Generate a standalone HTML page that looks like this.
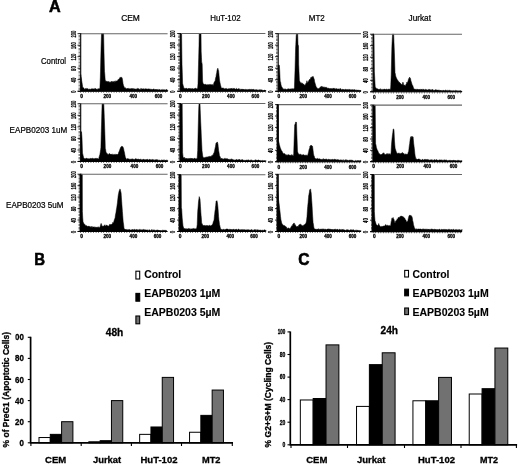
<!DOCTYPE html>
<html lang="en">
<head>
<meta charset="utf-8">
<title>Figure</title>
<style>
html,body{margin:0;padding:0;background:#fff;}
body{width:520px;height:465px;overflow:hidden;font-family:"Liberation Sans",Arial,Helvetica,sans-serif;}
svg{display:block;filter:blur(0.45px);}
</style>
</head>
<body>
<svg width="520" height="465" viewBox="0 0 520 465" font-family="'Liberation Sans', Arial, Helvetica, sans-serif" fill="#000">
<g font-weight="bold" fill="#000">
<path d="M80.70 91.2L80.70 74.5L81.10 76.9L81.50 78.8L81.70 80.8L81.90 81.9L82.30 84.3L82.70 87.3L83.10 87.4L83.50 87.8L83.90 88.1L84.20 89.2L84.70 89.0L85.10 89.2L85.50 88.5L85.90 88.6L86.30 89.3L86.70 88.3L87.10 88.4L87.50 88.7L87.90 88.7L88.30 89.2L88.70 89.4L89.10 88.8L89.50 89.3L89.90 89.2L90.30 89.1L90.70 89.4L91.10 88.9L91.50 89.0L91.90 88.5L92.30 88.9L92.70 88.8L93.10 88.9L93.50 88.8L93.90 89.0L94.30 89.2L94.70 88.4L95.10 88.4L95.50 88.6L95.90 88.7L96.30 89.1L96.70 89.2L97.10 89.2L97.50 89.4L97.90 88.7L98.30 89.1L98.70 88.6L99.10 89.1L99.50 88.5L99.90 88.2L100.30 77.8L100.50 71.2L100.70 62.2L101.10 46.2L101.50 33.7L101.90 33.7L102.30 33.7L102.70 33.7L103.10 33.7L103.60 33.7L104.00 52.2L104.30 63.9L104.50 71.2L104.70 73.1L105.20 80.0L105.50 80.4L105.90 81.5L106.10 82.0L106.30 80.9L106.70 81.9L107.10 81.4L107.50 81.6L107.90 82.0L108.30 81.3L108.70 82.2L109.10 81.6L109.50 82.4L110.00 82.0L110.30 82.3L110.70 82.2L111.10 81.2L111.50 81.5L111.90 82.2L112.30 81.3L112.70 82.3L113.10 82.1L113.50 81.4L113.90 81.7L114.20 82.5L114.70 80.9L115.10 81.9L115.50 81.6L115.90 80.7L116.30 81.2L116.70 81.0L117.10 81.1L117.50 80.7L117.90 79.7L118.30 79.9L118.70 79.0L119.20 78.8L119.50 78.6L119.90 77.4L120.30 77.7L120.70 77.2L121.10 76.9L121.50 77.7L122.00 77.6L122.30 78.6L122.70 81.0L123.00 83.5L123.50 85.4L123.90 86.2L124.20 87.1L124.70 88.2L125.10 87.6L125.50 87.9L125.90 88.4L126.10 88.7L126.30 89.0L126.70 89.1L127.10 88.1L127.50 88.9L127.90 88.4L128.30 88.9L128.70 88.3L129.10 88.5L129.50 88.8L129.90 88.9L130.30 88.4L130.70 89.1L131.10 88.9L131.50 88.5L132.00 88.2L132.30 88.5L132.70 88.9L133.10 88.2L133.50 89.0L133.90 89.2L134.30 88.9L134.70 88.8L135.10 89.2L135.50 89.1L135.90 88.9L136.30 88.7L136.70 89.2L137.10 88.9L137.50 88.4L137.90 88.3L138.30 88.7L138.70 88.7L139.10 88.8L139.50 89.3L139.90 89.4L140.30 89.4L140.70 88.5L141.10 88.7L141.50 88.5L141.90 89.5L142.30 88.8L142.70 89.0L143.10 88.8L143.50 89.2L143.90 88.5L144.30 89.5L144.70 89.0L145.10 88.8L145.50 88.7L145.90 88.9L146.30 88.9L146.70 88.9L147.10 88.7L147.50 89.3L148.00 89.0L148.30 88.8L148.70 88.9L149.10 89.3L149.50 89.0L149.90 88.9L150.30 89.2L150.70 89.2L151.10 89.4L151.50 89.3L151.90 89.2L152.30 89.8L152.70 89.3L153.10 88.9L153.50 89.0L153.90 89.2L154.30 89.6L154.70 89.2L155.10 89.4L155.50 89.6L155.90 89.2L156.30 90.0L156.70 89.3L157.10 90.0L157.50 89.5L157.90 89.6L158.30 89.9L158.70 89.4L159.10 89.7L159.50 89.6L159.90 89.3L160.30 89.9L160.70 90.2L161.10 89.9L161.50 89.6L161.90 90.1L162.30 90.1L162.70 89.4L163.10 89.7L163.50 89.9L163.90 89.5L164.30 90.0L164.70 89.7L165.10 90.2L165.50 90.0L165.90 89.6L166.30 89.5L166.70 89.6L167.10 90.1L167.50 89.9L167.70 90.2L167.7 91.2Z" stroke="#000" stroke-width="0.5" stroke-linejoin="round"/>
<path d="M80.7 33.7H167.6" stroke="#666" stroke-width="1.1" fill="none"/>
<path d="M80.7 33.3V91.8M77.7 91.2H167.6" stroke="#000" stroke-width="1.1" fill="none"/>
<path d="M79.40 33.5V91.7" stroke="#111" stroke-width="1.8" stroke-dasharray="0.5 0.938" fill="none"/>
<path d="M80.4 92.20H167.6" stroke="#111" stroke-width="1.2" stroke-dasharray="0.55 2.017" fill="none"/>
<path d="M77.5 91.2H80.7" stroke="#000" stroke-width="0.8"/>
<text transform="translate(75.6 92.9) rotate(-90)" font-size="6.4" textLength="2.5" lengthAdjust="spacingAndGlyphs" stroke="#000" stroke-width="0.22">0</text>
<path d="M77.5 79.7H80.7" stroke="#000" stroke-width="0.8"/>
<text transform="translate(75.6 82.4) rotate(-90)" font-size="6.4" textLength="4.6" lengthAdjust="spacingAndGlyphs" stroke="#000" stroke-width="0.22">40</text>
<path d="M77.5 68.2H80.7" stroke="#000" stroke-width="0.8"/>
<text transform="translate(75.6 70.9) rotate(-90)" font-size="6.4" textLength="4.6" lengthAdjust="spacingAndGlyphs" stroke="#000" stroke-width="0.22">80</text>
<path d="M77.5 56.7H80.7" stroke="#000" stroke-width="0.8"/>
<text transform="translate(75.6 60.5) rotate(-90)" font-size="6.4" textLength="6.7" lengthAdjust="spacingAndGlyphs" stroke="#000" stroke-width="0.22">120</text>
<path d="M77.5 45.2H80.7" stroke="#000" stroke-width="0.8"/>
<text transform="translate(75.6 49.0) rotate(-90)" font-size="6.4" textLength="6.7" lengthAdjust="spacingAndGlyphs" stroke="#000" stroke-width="0.22">160</text>
<path d="M77.5 33.7H80.7" stroke="#000" stroke-width="0.8"/>
<text transform="translate(75.6 37.5) rotate(-90)" font-size="6.4" textLength="6.7" lengthAdjust="spacingAndGlyphs" stroke="#000" stroke-width="0.22">200</text>
<text x="80.2" y="98.0" font-size="5.0" textLength="2.7" lengthAdjust="spacingAndGlyphs" stroke="#000" stroke-width="0.3">0</text>
<text x="103.4" y="98.0" font-size="5.0" textLength="7.6" lengthAdjust="spacingAndGlyphs" stroke="#000" stroke-width="0.3">200</text>
<text x="129.5" y="98.0" font-size="5.0" textLength="7.6" lengthAdjust="spacingAndGlyphs" stroke="#000" stroke-width="0.3">400</text>
<text x="154.8" y="98.0" font-size="5.0" textLength="7.6" lengthAdjust="spacingAndGlyphs" stroke="#000" stroke-width="0.3">600</text>
<path d="M180.30 91.2L180.30 33.6L180.70 33.6L181.10 33.6L181.60 33.6L182.00 64.2L182.30 72.9L182.60 83.3L183.10 85.3L183.50 86.5L183.90 88.2L184.30 88.4L184.70 88.3L185.10 88.2L185.50 88.5L186.00 88.8L186.30 88.2L186.70 88.1L187.10 88.7L187.50 89.0L187.90 89.1L188.30 88.2L188.70 89.1L189.10 88.4L189.50 88.5L189.90 88.8L190.30 88.3L190.70 89.1L191.10 89.0L191.50 88.6L191.90 89.1L192.30 88.3L192.70 88.9L193.10 89.0L193.50 89.1L193.90 88.5L194.30 88.7L194.70 88.5L195.10 88.4L195.50 88.3L195.90 88.1L196.30 88.4L196.70 88.9L197.20 88.6L197.60 88.4L198.00 83.7L198.30 71.8L198.50 64.2L198.70 57.2L199.00 45.5L199.20 33.6L199.50 33.6L199.90 33.6L200.30 33.6L200.70 33.6L201.00 33.6L201.20 51.7L201.50 57.8L201.70 63.0L201.90 62.8L202.20 64.2L202.60 81.1L203.20 84.3L203.50 84.1L203.90 83.8L204.30 84.6L204.70 84.5L205.10 84.2L205.50 84.4L206.00 84.3L206.30 84.9L206.70 84.7L207.10 85.3L207.50 84.6L207.90 84.5L208.30 84.7L208.70 84.6L209.10 85.3L209.50 84.4L209.90 84.3L210.30 84.3L210.70 84.9L211.10 84.5L211.50 85.1L211.90 84.4L212.30 84.4L212.70 85.1L213.20 85.4L213.50 84.2L213.90 82.9L214.30 81.8L214.70 81.4L215.10 81.2L215.50 78.3L216.00 76.7L216.30 74.4L216.70 72.9L217.00 70.5L217.50 68.8L217.90 68.2L218.30 70.1L218.60 70.5L219.10 75.7L219.50 80.0L219.90 82.2L220.30 83.9L220.50 85.5L220.70 85.4L221.10 87.2L221.50 87.9L221.70 88.0L221.90 88.3L222.30 87.9L222.70 88.1L223.10 88.3L223.50 88.1L223.90 88.4L224.30 88.8L224.70 88.8L225.10 88.4L225.50 88.5L226.00 89.3L226.30 88.6L226.70 88.5L227.10 88.9L227.50 88.8L227.90 89.2L228.30 88.8L228.70 88.8L229.10 88.7L229.50 89.3L229.90 88.2L230.30 88.7L230.70 88.8L231.10 88.3L231.50 88.6L232.00 88.6L232.30 88.4L232.70 89.1L233.10 88.6L233.50 88.8L233.90 88.2L234.30 88.3L234.70 89.0L235.10 88.8L235.50 89.2L235.90 88.9L236.30 88.5L236.70 88.5L237.10 88.9L237.50 89.1L237.90 89.3L238.30 88.8L238.70 88.5L239.10 89.4L239.50 88.7L239.90 89.5L240.30 89.4L240.70 89.4L241.10 88.9L241.50 89.3L241.90 89.3L242.30 89.1L242.70 89.6L243.10 89.0L243.50 89.6L243.90 89.3L244.30 89.6L244.70 89.6L245.10 89.3L245.50 89.4L246.00 89.5L246.30 89.5L246.70 89.4L247.10 89.8L247.50 89.8L247.90 89.3L248.30 89.4L248.70 89.5L249.10 89.2L249.50 89.4L249.90 89.2L250.30 89.8L250.70 89.3L251.10 89.3L251.50 89.2L251.90 89.8L252.30 89.8L252.70 89.2L253.10 90.0L253.50 89.2L253.90 89.3L254.30 90.1L254.70 90.0L255.10 89.5L255.50 90.0L255.90 90.2L256.30 89.5L256.70 89.9L257.10 89.6L257.50 90.2L257.90 90.0L258.30 89.7L258.70 90.4L259.10 90.2L259.50 89.8L259.90 89.6L260.30 89.5L260.70 90.4L261.10 90.0L261.50 89.8L261.90 90.0L262.30 89.9L262.70 90.4L263.10 90.5L263.50 90.5L263.90 90.6L264.30 90.1L264.70 90.1L265.10 90.1L265.50 90.5L266.00 90.5L266.0 91.2Z" stroke="#000" stroke-width="0.5" stroke-linejoin="round"/>
<path d="M180.3 33.5H265.4" stroke="#666" stroke-width="1.1" fill="none"/>
<path d="M180.3 33.1V91.8M177.3 91.2H265.4" stroke="#000" stroke-width="1.1" fill="none"/>
<path d="M179.00 33.2V91.7" stroke="#111" stroke-width="1.8" stroke-dasharray="0.5 0.943" fill="none"/>
<path d="M180.0 92.20H265.4" stroke="#111" stroke-width="1.2" stroke-dasharray="0.55 1.950" fill="none"/>
<path d="M177.1 91.2H180.3" stroke="#000" stroke-width="0.8"/>
<text transform="translate(175.2 92.9) rotate(-90)" font-size="6.4" textLength="2.5" lengthAdjust="spacingAndGlyphs" stroke="#000" stroke-width="0.22">0</text>
<path d="M177.1 79.7H180.3" stroke="#000" stroke-width="0.8"/>
<text transform="translate(175.2 82.4) rotate(-90)" font-size="6.4" textLength="4.6" lengthAdjust="spacingAndGlyphs" stroke="#000" stroke-width="0.22">40</text>
<path d="M177.1 68.1H180.3" stroke="#000" stroke-width="0.8"/>
<text transform="translate(175.2 70.8) rotate(-90)" font-size="6.4" textLength="4.6" lengthAdjust="spacingAndGlyphs" stroke="#000" stroke-width="0.22">80</text>
<path d="M177.1 56.6H180.3" stroke="#000" stroke-width="0.8"/>
<text transform="translate(175.2 60.3) rotate(-90)" font-size="6.4" textLength="6.7" lengthAdjust="spacingAndGlyphs" stroke="#000" stroke-width="0.22">120</text>
<path d="M177.1 45.0H180.3" stroke="#000" stroke-width="0.8"/>
<text transform="translate(175.2 48.8) rotate(-90)" font-size="6.4" textLength="6.7" lengthAdjust="spacingAndGlyphs" stroke="#000" stroke-width="0.22">160</text>
<path d="M177.1 33.5H180.3" stroke="#000" stroke-width="0.8"/>
<text transform="translate(175.2 37.2) rotate(-90)" font-size="6.4" textLength="6.7" lengthAdjust="spacingAndGlyphs" stroke="#000" stroke-width="0.22">200</text>
<text x="179.1" y="98.0" font-size="5.0" textLength="2.7" lengthAdjust="spacingAndGlyphs" stroke="#000" stroke-width="0.3">0</text>
<text x="202.1" y="98.0" font-size="5.0" textLength="7.6" lengthAdjust="spacingAndGlyphs" stroke="#000" stroke-width="0.3">200</text>
<text x="227.1" y="98.0" font-size="5.0" textLength="7.6" lengthAdjust="spacingAndGlyphs" stroke="#000" stroke-width="0.3">400</text>
<text x="251.6" y="98.0" font-size="5.0" textLength="7.6" lengthAdjust="spacingAndGlyphs" stroke="#000" stroke-width="0.3">600</text>
<path d="M278.20 91.3L278.20 65.6L278.60 65.1L279.00 64.8L279.40 65.6L279.70 70.6L280.20 81.3L280.60 82.0L281.00 84.6L281.20 85.3L281.40 86.2L281.80 86.8L282.20 87.5L282.50 88.2L283.00 88.4L283.40 89.4L283.70 88.9L284.20 88.7L284.60 89.4L285.00 89.1L285.40 88.9L285.80 89.2L286.20 89.4L286.60 89.4L287.00 89.1L287.40 89.6L287.80 88.7L288.20 88.8L288.60 88.9L289.00 88.7L289.40 89.0L289.80 89.2L290.20 89.0L290.60 89.1L291.00 88.6L291.40 88.8L291.80 89.3L292.20 88.7L292.60 88.8L293.00 88.8L293.40 88.8L293.80 89.2L294.00 88.7L294.20 88.2L294.40 87.9L294.60 81.9L295.00 70.6L295.40 55.8L295.60 48.1L295.80 44.6L296.20 35.6L296.50 33.7L297.00 33.7L297.40 33.7L297.70 33.7L298.00 44.3L298.20 45.2L298.50 45.6L298.70 64.3L299.00 71.5L299.40 80.4L299.80 81.3L300.20 82.2L300.60 83.3L301.00 82.5L301.40 83.2L301.80 83.2L302.20 83.2L302.50 83.0L303.00 84.6L303.40 84.0L303.80 84.1L304.20 84.9L304.60 84.9L305.00 85.6L305.40 84.6L305.80 83.6L306.20 83.2L306.60 82.2L306.90 80.7L307.40 82.4L307.70 83.1L308.20 81.5L308.70 81.2L309.00 80.0L309.40 79.9L309.80 79.0L310.20 79.5L310.60 78.1L311.00 77.3L311.40 78.0L311.90 76.8L312.20 77.2L312.60 76.6L313.10 76.3L313.40 77.1L313.80 78.0L314.00 78.7L314.20 78.9L314.60 81.5L315.00 83.1L315.40 84.2L315.80 85.7L316.20 87.1L316.60 87.2L317.00 87.9L317.50 88.9L317.80 88.3L318.20 88.6L318.60 88.7L319.00 88.2L319.40 88.2L319.80 87.9L320.20 87.0L320.60 87.2L321.00 86.4L321.20 86.5L321.40 87.4L321.80 86.3L322.20 86.5L322.60 87.6L323.00 86.7L323.40 87.3L323.80 87.3L324.20 86.8L324.60 87.7L325.00 87.5L325.40 87.1L325.80 87.4L326.20 87.8L326.60 87.3L327.00 87.6L327.40 87.9L327.80 88.5L328.20 88.1L328.70 88.3L329.00 88.6L329.40 88.8L329.80 88.3L330.20 88.8L330.60 88.5L331.00 88.3L331.40 88.5L331.80 88.8L332.20 88.5L332.60 88.7L333.00 88.3L333.40 88.6L333.80 88.1L334.20 88.2L334.60 88.5L335.00 89.0L335.40 89.2L335.80 88.4L336.20 88.5L336.60 88.7L337.00 89.0L337.40 89.2L337.80 88.8L338.20 88.9L338.60 88.9L339.00 88.9L339.40 88.8L339.80 89.4L340.00 89.4L340.20 88.6L340.60 88.7L341.00 88.8L341.40 89.7L341.80 89.7L342.20 89.5L342.60 89.3L343.00 89.1L343.40 89.7L343.80 89.3L344.20 89.8L344.60 89.8L345.00 89.2L345.40 89.4L345.80 89.3L346.20 89.6L346.60 89.5L347.00 89.8L347.40 89.7L347.80 89.3L348.20 89.2L348.60 90.0L349.00 90.0L349.40 89.3L349.80 89.5L350.20 89.4L350.60 90.0L351.00 89.8L351.40 90.0L351.80 89.5L352.20 89.9L352.60 89.7L353.00 89.4L353.40 90.0L353.80 89.8L354.20 89.7L354.60 89.5L355.00 90.0L355.40 90.1L355.80 90.4L356.20 89.7L356.60 90.5L357.00 90.5L357.40 90.0L357.80 90.1L358.20 90.0L358.60 90.4L359.00 89.9L359.40 90.6L359.80 90.5L360.20 90.1L360.60 90.7L361.00 90.5L361.0 91.3Z" stroke="#000" stroke-width="0.5" stroke-linejoin="round"/>
<path d="M278.2 33.6H361.0" stroke="#666" stroke-width="1.1" fill="none"/>
<path d="M278.2 33.2V91.9M275.2 91.3H361.0" stroke="#000" stroke-width="1.1" fill="none"/>
<path d="M276.90 33.4V91.8" stroke="#111" stroke-width="1.8" stroke-dasharray="0.5 0.942" fill="none"/>
<path d="M277.9 92.30H361.0" stroke="#111" stroke-width="1.2" stroke-dasharray="0.55 1.910" fill="none"/>
<path d="M275.0 91.3H278.2" stroke="#000" stroke-width="0.8"/>
<text transform="translate(273.1 93.0) rotate(-90)" font-size="6.4" textLength="2.5" lengthAdjust="spacingAndGlyphs" stroke="#000" stroke-width="0.22">0</text>
<path d="M275.0 79.8H278.2" stroke="#000" stroke-width="0.8"/>
<text transform="translate(273.1 82.5) rotate(-90)" font-size="6.4" textLength="4.6" lengthAdjust="spacingAndGlyphs" stroke="#000" stroke-width="0.22">40</text>
<path d="M275.0 68.2H278.2" stroke="#000" stroke-width="0.8"/>
<text transform="translate(273.1 70.9) rotate(-90)" font-size="6.4" textLength="4.6" lengthAdjust="spacingAndGlyphs" stroke="#000" stroke-width="0.22">80</text>
<path d="M275.0 56.7H278.2" stroke="#000" stroke-width="0.8"/>
<text transform="translate(273.1 60.4) rotate(-90)" font-size="6.4" textLength="6.7" lengthAdjust="spacingAndGlyphs" stroke="#000" stroke-width="0.22">120</text>
<path d="M275.0 45.1H278.2" stroke="#000" stroke-width="0.8"/>
<text transform="translate(273.1 48.9) rotate(-90)" font-size="6.4" textLength="6.7" lengthAdjust="spacingAndGlyphs" stroke="#000" stroke-width="0.22">160</text>
<path d="M275.0 33.6H278.2" stroke="#000" stroke-width="0.8"/>
<text transform="translate(273.1 37.4) rotate(-90)" font-size="6.4" textLength="6.7" lengthAdjust="spacingAndGlyphs" stroke="#000" stroke-width="0.22">200</text>
<text x="277.4" y="98.1" font-size="5.0" textLength="2.7" lengthAdjust="spacingAndGlyphs" stroke="#000" stroke-width="0.3">0</text>
<text x="299.5" y="98.1" font-size="5.0" textLength="7.6" lengthAdjust="spacingAndGlyphs" stroke="#000" stroke-width="0.3">200</text>
<text x="324.2" y="98.1" font-size="5.0" textLength="7.6" lengthAdjust="spacingAndGlyphs" stroke="#000" stroke-width="0.3">400</text>
<text x="348.8" y="98.1" font-size="5.0" textLength="7.6" lengthAdjust="spacingAndGlyphs" stroke="#000" stroke-width="0.3">600</text>
<path d="M373.20 91.8L373.20 34.2L373.60 34.2L374.00 34.2L374.40 71.8L374.80 79.5L375.20 86.5L375.60 87.5L376.00 88.3L376.40 88.2L376.80 88.9L377.00 88.8L377.20 88.7L377.60 88.8L378.00 89.3L378.40 88.9L378.80 89.4L379.20 89.4L379.60 89.3L380.00 88.8L380.40 88.8L380.80 89.5L381.20 89.4L381.60 89.4L382.00 89.4L382.40 89.4L382.80 89.4L383.20 89.6L383.60 89.2L384.00 89.0L384.40 89.3L384.80 89.0L385.20 89.3L385.60 89.7L386.00 89.1L386.40 88.9L386.80 89.6L387.20 89.9L387.60 89.3L388.00 89.3L388.40 89.3L388.80 88.9L389.20 89.2L389.60 89.1L390.00 89.9L390.20 89.4L390.40 88.8L390.60 89.2L390.80 84.8L391.20 75.1L391.60 58.0L391.90 46.3L392.50 34.2L392.80 34.2L393.20 34.2L393.70 34.2L394.00 42.6L394.40 52.8L394.80 65.7L395.00 72.8L395.20 73.2L395.60 75.4L396.00 77.1L396.20 77.6L396.40 77.7L396.80 78.8L397.20 79.5L397.60 80.0L398.10 81.0L398.40 81.0L398.80 82.2L399.20 82.0L399.60 82.6L400.00 82.8L400.40 83.3L400.80 83.6L401.20 84.0L401.60 84.3L402.00 85.1L402.40 84.0L402.90 82.1L403.20 82.8L403.60 84.4L403.80 84.9L404.00 85.4L404.40 85.0L404.80 85.0L405.00 86.0L405.20 85.9L405.60 85.2L406.00 84.3L406.40 83.9L406.80 82.2L407.20 82.9L407.50 82.1L408.00 81.3L408.40 79.5L408.80 78.4L409.20 78.5L409.60 77.1L410.00 77.8L410.40 78.3L410.60 78.8L410.80 80.3L411.20 81.5L411.60 82.8L412.00 84.2L412.40 85.2L412.80 85.6L413.20 86.9L413.70 88.6L414.00 88.8L414.40 88.9L414.80 89.3L415.20 88.9L415.60 89.6L416.00 89.6L416.40 89.3L416.80 89.6L417.20 89.8L417.60 89.1L418.00 89.1L418.40 89.7L418.80 89.5L419.20 89.0L419.60 89.5L420.00 89.8L420.40 89.9L420.80 89.0L421.20 89.1L421.60 89.5L422.00 89.4L422.40 89.4L422.80 89.7L423.20 88.9L423.60 89.3L424.00 89.8L424.40 90.0L424.80 89.6L425.20 89.7L425.60 89.3L426.00 89.4L426.40 89.5L426.80 90.0L427.20 90.0L427.60 89.9L428.00 89.9L428.40 89.3L428.80 89.7L429.20 89.6L429.60 89.3L430.00 90.0L430.40 89.8L430.80 90.2L431.20 89.6L431.60 90.4L432.00 89.6L432.40 89.6L432.80 89.6L433.20 90.4L433.60 90.2L434.00 89.8L434.40 90.4L434.80 90.1L435.20 90.1L435.60 89.6L436.00 90.0L436.40 89.8L436.80 90.3L437.20 89.9L437.60 90.3L438.00 89.8L438.40 90.6L438.80 89.9L439.20 90.5L439.60 90.2L440.00 90.2L440.40 90.6L440.80 90.0L441.20 90.5L441.60 90.5L442.00 90.7L442.40 90.5L442.80 90.4L443.20 90.1L443.60 90.5L444.00 90.2L444.40 90.8L444.80 90.5L445.20 90.4L445.60 90.0L446.00 90.1L446.40 90.3L446.80 90.9L447.20 90.6L447.60 90.3L448.00 90.7L448.40 90.4L448.80 90.6L449.20 91.0L449.60 90.1L450.00 90.3L450.40 90.8L450.80 90.5L451.20 90.8L451.60 90.7L452.00 90.6L452.40 90.8L452.80 90.8L453.20 90.7L453.60 90.5L454.00 90.9L454.40 91.0L454.80 90.5L455.20 90.9L455.60 90.3L456.00 90.7L456.40 90.5L456.80 90.9L457.20 90.4L457.60 91.2L458.00 91.1L458.40 91.2L458.80 90.6L459.20 90.6L459.60 91.1L460.00 90.9L460.40 90.5L460.80 90.8L461.20 91.3L461.60 91.1L462.00 91.2L462.0 91.8Z" stroke="#000" stroke-width="0.5" stroke-linejoin="round"/>
<path d="M373.2 34.2H462.0" stroke="#666" stroke-width="1.1" fill="none"/>
<path d="M373.2 33.8V92.4M370.2 91.8H462.0" stroke="#000" stroke-width="1.1" fill="none"/>
<path d="M371.90 34.0V92.3" stroke="#111" stroke-width="1.8" stroke-dasharray="0.5 0.940" fill="none"/>
<path d="M372.9 92.80H462.0" stroke="#111" stroke-width="1.2" stroke-dasharray="0.55 2.017" fill="none"/>
<path d="M370.0 91.8H373.2" stroke="#000" stroke-width="0.8"/>
<text transform="translate(368.1 93.5) rotate(-90)" font-size="6.4" textLength="2.5" lengthAdjust="spacingAndGlyphs" stroke="#000" stroke-width="0.22">0</text>
<path d="M370.0 80.3H373.2" stroke="#000" stroke-width="0.8"/>
<text transform="translate(368.1 83.0) rotate(-90)" font-size="6.4" textLength="4.6" lengthAdjust="spacingAndGlyphs" stroke="#000" stroke-width="0.22">40</text>
<path d="M370.0 68.8H373.2" stroke="#000" stroke-width="0.8"/>
<text transform="translate(368.1 71.5) rotate(-90)" font-size="6.4" textLength="4.6" lengthAdjust="spacingAndGlyphs" stroke="#000" stroke-width="0.22">80</text>
<path d="M370.0 57.2H373.2" stroke="#000" stroke-width="0.8"/>
<text transform="translate(368.1 61.0) rotate(-90)" font-size="6.4" textLength="6.7" lengthAdjust="spacingAndGlyphs" stroke="#000" stroke-width="0.22">120</text>
<path d="M370.0 45.7H373.2" stroke="#000" stroke-width="0.8"/>
<text transform="translate(368.1 49.5) rotate(-90)" font-size="6.4" textLength="6.7" lengthAdjust="spacingAndGlyphs" stroke="#000" stroke-width="0.22">160</text>
<path d="M370.0 34.2H373.2" stroke="#000" stroke-width="0.8"/>
<text transform="translate(368.1 38.0) rotate(-90)" font-size="6.4" textLength="6.7" lengthAdjust="spacingAndGlyphs" stroke="#000" stroke-width="0.22">200</text>
<text x="372.9" y="98.6" font-size="5.0" textLength="2.7" lengthAdjust="spacingAndGlyphs" stroke="#000" stroke-width="0.3">0</text>
<text x="396.2" y="98.6" font-size="5.0" textLength="7.6" lengthAdjust="spacingAndGlyphs" stroke="#000" stroke-width="0.3">200</text>
<text x="422.4" y="98.6" font-size="5.0" textLength="7.6" lengthAdjust="spacingAndGlyphs" stroke="#000" stroke-width="0.3">400</text>
<text x="447.5" y="98.6" font-size="5.0" textLength="7.6" lengthAdjust="spacingAndGlyphs" stroke="#000" stroke-width="0.3">600</text>
<path d="M80.70 161.5L80.70 131.5L81.10 131.8L81.50 131.8L82.00 138.0L82.30 147.1L82.50 153.0L82.70 153.7L83.10 155.4L83.60 157.6L83.90 158.2L84.30 158.4L84.70 158.4L85.10 158.9L85.50 158.6L86.00 158.4L86.30 158.1L86.70 158.3L87.10 158.4L87.50 158.5L87.90 159.1L88.30 158.8L88.70 158.8L89.10 158.4L89.50 159.0L89.90 158.7L90.30 158.6L90.70 158.3L91.10 158.3L91.50 158.5L91.90 159.0L92.30 158.3L92.70 158.2L93.10 158.5L93.50 158.8L93.90 158.6L94.30 159.0L94.70 158.4L95.10 158.1L95.50 158.6L95.90 158.4L96.30 158.2L96.70 158.9L97.10 158.1L97.50 158.5L97.90 158.9L98.30 159.0L98.60 158.9L99.20 156.7L99.50 155.4L99.90 154.4L100.20 152.4L100.70 149.3L100.90 147.5L101.10 140.1L101.30 131.5L101.50 124.9L101.80 113.5L102.10 103.9L102.30 103.9L102.70 103.9L103.10 103.9L103.50 103.9L103.80 103.9L104.30 117.5L104.70 128.7L104.90 134.5L105.10 141.0L105.30 148.5L105.50 148.8L106.00 152.2L106.30 152.5L106.70 153.1L107.10 154.1L107.50 153.7L107.90 154.4L108.30 154.6L108.70 154.5L109.10 153.5L109.50 153.6L110.00 154.1L110.30 154.6L110.70 154.1L111.10 154.0L111.50 154.5L111.90 154.2L112.30 153.9L112.70 154.9L113.10 154.7L113.50 154.3L113.90 154.8L114.30 154.5L114.70 154.2L115.10 154.7L115.50 154.3L115.90 154.6L116.30 154.2L116.70 154.5L117.10 154.1L117.50 154.9L118.00 154.1L118.30 154.1L118.60 152.4L119.10 151.4L119.50 150.5L119.90 149.3L120.30 148.3L120.70 147.3L121.10 146.8L121.50 146.3L121.90 146.6L122.40 146.5L122.70 146.5L123.10 147.2L123.60 148.6L123.90 150.2L124.30 151.9L124.50 152.4L124.70 154.0L125.10 156.0L125.50 158.1L125.90 157.9L126.30 158.9L126.70 159.5L127.10 158.8L127.50 158.6L127.90 158.8L128.30 158.9L128.70 158.7L129.10 159.2L129.50 158.9L129.90 159.5L130.30 159.4L130.70 159.1L131.10 159.0L131.50 159.1L132.00 159.5L132.30 158.8L132.70 159.0L133.10 159.3L133.50 159.3L133.90 159.2L134.30 159.4L134.70 159.6L135.10 158.7L135.50 158.7L135.90 159.0L136.30 158.8L136.70 159.3L137.10 158.9L137.50 159.5L137.90 159.0L138.30 159.2L138.70 158.9L139.10 159.7L139.50 159.0L139.90 159.7L140.30 159.3L140.70 158.9L141.10 159.9L141.50 159.7L141.90 159.6L142.30 159.6L142.70 159.9L143.10 159.1L143.50 159.2L143.90 159.6L144.30 159.7L144.70 159.5L145.10 160.0L145.50 160.1L145.90 159.2L146.30 159.8L146.70 159.6L147.10 159.2L147.50 159.2L148.00 159.7L148.30 160.0L148.70 159.9L149.10 159.3L149.50 159.3L149.90 160.1L150.30 159.4L150.70 159.9L151.10 159.8L151.50 160.1L151.90 159.4L152.30 159.3L152.70 160.1L153.10 159.7L153.50 160.2L153.90 159.5L154.30 160.3L154.70 160.3L155.10 159.7L155.50 160.1L155.90 159.5L156.30 159.6L156.70 159.8L157.10 160.3L157.50 159.8L157.90 159.6L158.30 160.1L158.70 160.4L159.10 160.3L159.50 160.2L159.90 159.9L160.30 160.4L160.70 160.4L161.10 160.4L161.50 159.9L161.90 159.8L162.30 160.3L162.70 160.0L163.10 159.8L163.50 160.1L163.90 160.4L164.30 160.4L164.70 159.8L165.10 160.1L165.50 160.5L165.90 160.1L166.30 160.7L166.70 159.8L167.10 160.3L167.50 160.3L167.70 160.3L167.7 161.5Z" stroke="#000" stroke-width="0.5" stroke-linejoin="round"/>
<path d="M80.7 103.8H167.6" stroke="#666" stroke-width="1.1" fill="none"/>
<path d="M80.7 103.4V162.1M77.7 161.5H167.6" stroke="#000" stroke-width="1.1" fill="none"/>
<path d="M79.40 103.5V162.0" stroke="#111" stroke-width="1.8" stroke-dasharray="0.5 0.943" fill="none"/>
<path d="M80.4 162.50H167.6" stroke="#111" stroke-width="1.2" stroke-dasharray="0.55 2.017" fill="none"/>
<path d="M77.5 161.5H80.7" stroke="#000" stroke-width="0.8"/>
<text transform="translate(75.6 163.2) rotate(-90)" font-size="6.4" textLength="2.5" lengthAdjust="spacingAndGlyphs" stroke="#000" stroke-width="0.22">0</text>
<path d="M77.5 150.0H80.7" stroke="#000" stroke-width="0.8"/>
<text transform="translate(75.6 152.7) rotate(-90)" font-size="6.4" textLength="4.6" lengthAdjust="spacingAndGlyphs" stroke="#000" stroke-width="0.22">40</text>
<path d="M77.5 138.4H80.7" stroke="#000" stroke-width="0.8"/>
<text transform="translate(75.6 141.1) rotate(-90)" font-size="6.4" textLength="4.6" lengthAdjust="spacingAndGlyphs" stroke="#000" stroke-width="0.22">80</text>
<path d="M77.5 126.9H80.7" stroke="#000" stroke-width="0.8"/>
<text transform="translate(75.6 130.6) rotate(-90)" font-size="6.4" textLength="6.7" lengthAdjust="spacingAndGlyphs" stroke="#000" stroke-width="0.22">120</text>
<path d="M77.5 115.3H80.7" stroke="#000" stroke-width="0.8"/>
<text transform="translate(75.6 119.1) rotate(-90)" font-size="6.4" textLength="6.7" lengthAdjust="spacingAndGlyphs" stroke="#000" stroke-width="0.22">160</text>
<path d="M77.5 103.8H80.7" stroke="#000" stroke-width="0.8"/>
<text transform="translate(75.6 107.5) rotate(-90)" font-size="6.4" textLength="6.7" lengthAdjust="spacingAndGlyphs" stroke="#000" stroke-width="0.22">200</text>
<text x="80.2" y="168.3" font-size="5.0" textLength="2.7" lengthAdjust="spacingAndGlyphs" stroke="#000" stroke-width="0.3">0</text>
<text x="103.6" y="168.3" font-size="5.0" textLength="7.6" lengthAdjust="spacingAndGlyphs" stroke="#000" stroke-width="0.3">200</text>
<text x="130.6" y="168.3" font-size="5.0" textLength="7.6" lengthAdjust="spacingAndGlyphs" stroke="#000" stroke-width="0.3">400</text>
<text x="155.8" y="168.3" font-size="5.0" textLength="7.6" lengthAdjust="spacingAndGlyphs" stroke="#000" stroke-width="0.3">600</text>
<path d="M179.80 161.5L179.80 103.9L180.20 103.9L180.60 103.9L181.00 103.9L181.40 103.9L181.80 103.9L182.20 103.9L182.60 152.6L183.00 156.2L183.20 157.7L183.40 157.4L183.80 158.0L184.20 157.4L184.60 157.5L185.00 158.7L185.40 158.4L185.80 158.2L186.00 158.7L186.20 158.1L186.60 158.6L187.00 158.9L187.40 158.5L187.80 158.4L188.20 158.8L188.60 158.4L189.00 158.3L189.40 158.6L189.80 158.6L190.20 158.2L190.60 158.4L191.00 158.6L191.40 158.1L191.80 159.0L192.20 158.3L192.60 159.0L193.00 158.5L193.40 158.9L193.80 158.7L194.20 158.3L194.60 158.3L195.00 158.3L195.40 158.9L195.80 158.6L196.20 158.9L196.60 158.5L196.80 158.6L197.00 158.8L197.20 157.9L197.40 154.7L197.70 150.4L198.20 128.0L198.70 109.3L199.00 103.9L199.40 103.9L199.80 103.9L200.00 103.9L200.20 109.3L200.70 121.8L201.00 128.3L201.40 138.0L201.80 145.7L202.00 150.4L202.20 152.0L202.70 155.7L203.00 156.9L203.50 157.8L203.80 157.6L204.20 157.9L204.50 157.6L205.00 157.2L205.40 157.2L205.80 157.4L206.20 157.0L206.60 157.5L207.00 156.6L207.40 157.3L207.80 157.1L208.20 157.2L208.60 156.5L209.00 156.2L209.40 156.2L209.80 157.0L210.20 156.5L210.60 156.5L211.00 156.6L211.40 155.6L211.80 156.7L212.00 156.1L212.20 155.6L212.60 154.9L213.00 155.2L213.40 154.0L213.90 152.7L214.20 152.4L214.60 150.5L215.10 148.0L215.40 146.9L215.80 144.3L216.00 143.0L216.20 142.9L216.60 143.1L217.00 142.0L217.40 142.1L217.80 143.4L218.00 144.3L218.20 146.5L218.70 150.9L219.00 152.3L219.50 155.8L219.80 156.3L220.20 156.8L220.70 158.7L221.00 158.8L221.40 158.1L221.80 158.5L222.20 159.2L222.60 158.8L223.00 158.5L223.40 159.2L223.80 158.9L224.20 158.5L224.60 158.4L225.00 158.7L225.40 158.4L225.80 158.8L226.20 158.9L226.60 158.5L227.00 159.0L227.40 158.6L227.80 159.2L228.00 159.1L228.20 159.3L228.60 158.9L229.00 159.4L229.40 159.4L229.80 159.4L230.20 159.2L230.60 159.4L231.00 159.4L231.40 158.8L231.80 159.2L232.20 159.1L232.60 159.8L233.00 159.7L233.40 160.1L233.80 159.5L234.00 159.8L234.20 159.9L234.60 160.2L235.00 160.0L235.40 160.0L235.80 159.9L236.20 159.3L236.60 159.5L237.00 160.0L237.40 159.9L237.80 160.1L238.20 159.4L238.60 160.0L239.00 159.6L239.40 159.6L239.80 159.4L240.20 160.3L240.60 160.0L241.00 160.0L241.40 160.3L241.80 159.5L242.20 160.1L242.60 159.6L243.00 159.9L243.40 160.4L243.80 160.1L244.20 160.2L244.60 160.4L245.00 160.3L245.40 159.9L245.80 160.5L246.20 160.2L246.60 160.1L247.00 160.0L247.40 160.4L247.80 159.8L248.20 160.3L248.60 159.8L249.00 159.9L249.40 160.4L249.80 160.4L250.20 160.3L250.60 159.9L251.00 160.2L251.40 160.2L251.80 159.8L252.20 160.4L252.60 160.4L253.00 160.3L253.40 160.5L253.80 160.6L254.20 160.7L254.60 160.1L255.00 160.2L255.40 159.9L255.80 159.8L256.20 160.5L256.60 160.1L257.00 159.9L257.40 160.6L257.80 160.1L258.20 160.1L258.60 159.9L259.00 160.0L259.40 160.6L259.80 160.2L260.20 160.8L260.60 160.4L261.00 160.5L261.40 160.8L261.80 160.5L262.20 160.6L262.60 160.4L263.00 160.6L263.40 160.8L263.80 160.5L264.20 160.5L264.60 160.8L265.00 160.3L265.40 160.7L265.80 160.9L266.00 160.7L266.0 161.5Z" stroke="#000" stroke-width="0.5" stroke-linejoin="round"/>
<path d="M180.3 103.5H265.4" stroke="#666" stroke-width="1.1" fill="none"/>
<path d="M180.3 103.1V162.1M177.3 161.5H265.4" stroke="#000" stroke-width="1.1" fill="none"/>
<path d="M179.00 103.2V162.0" stroke="#111" stroke-width="1.8" stroke-dasharray="0.5 0.950" fill="none"/>
<path d="M180.0 162.50H265.4" stroke="#111" stroke-width="1.2" stroke-dasharray="0.55 1.950" fill="none"/>
<path d="M177.1 161.5H180.3" stroke="#000" stroke-width="0.8"/>
<text transform="translate(175.2 163.2) rotate(-90)" font-size="6.4" textLength="2.5" lengthAdjust="spacingAndGlyphs" stroke="#000" stroke-width="0.22">0</text>
<path d="M177.1 149.9H180.3" stroke="#000" stroke-width="0.8"/>
<text transform="translate(175.2 152.6) rotate(-90)" font-size="6.4" textLength="4.6" lengthAdjust="spacingAndGlyphs" stroke="#000" stroke-width="0.22">40</text>
<path d="M177.1 138.3H180.3" stroke="#000" stroke-width="0.8"/>
<text transform="translate(175.2 141.0) rotate(-90)" font-size="6.4" textLength="4.6" lengthAdjust="spacingAndGlyphs" stroke="#000" stroke-width="0.22">80</text>
<path d="M177.1 126.7H180.3" stroke="#000" stroke-width="0.8"/>
<text transform="translate(175.2 130.5) rotate(-90)" font-size="6.4" textLength="6.7" lengthAdjust="spacingAndGlyphs" stroke="#000" stroke-width="0.22">120</text>
<path d="M177.1 115.1H180.3" stroke="#000" stroke-width="0.8"/>
<text transform="translate(175.2 118.8) rotate(-90)" font-size="6.4" textLength="6.7" lengthAdjust="spacingAndGlyphs" stroke="#000" stroke-width="0.22">160</text>
<path d="M177.1 103.5H180.3" stroke="#000" stroke-width="0.8"/>
<text transform="translate(175.2 107.2) rotate(-90)" font-size="6.4" textLength="6.7" lengthAdjust="spacingAndGlyphs" stroke="#000" stroke-width="0.22">200</text>
<text x="179.1" y="168.3" font-size="5.0" textLength="2.7" lengthAdjust="spacingAndGlyphs" stroke="#000" stroke-width="0.3">0</text>
<text x="202.1" y="168.3" font-size="5.0" textLength="7.6" lengthAdjust="spacingAndGlyphs" stroke="#000" stroke-width="0.3">200</text>
<text x="227.1" y="168.3" font-size="5.0" textLength="7.6" lengthAdjust="spacingAndGlyphs" stroke="#000" stroke-width="0.3">400</text>
<text x="251.6" y="168.3" font-size="5.0" textLength="7.6" lengthAdjust="spacingAndGlyphs" stroke="#000" stroke-width="0.3">600</text>
<path d="M277.00 161.7L277.00 104.6L277.40 104.6L277.80 104.6L278.20 104.6L278.50 141.0L279.00 142.7L279.40 144.7L279.80 146.1L280.20 147.5L280.60 148.5L281.00 149.4L281.40 150.8L281.80 150.8L282.20 151.5L282.50 152.2L283.00 152.9L283.40 153.3L283.80 153.9L284.20 153.8L284.60 153.4L285.00 154.1L285.40 154.9L285.60 154.5L285.80 155.3L286.20 155.2L286.60 155.1L287.00 154.6L287.40 155.4L287.80 155.1L288.20 154.6L288.60 154.8L289.00 155.0L289.40 155.0L289.80 155.3L290.20 155.3L290.60 155.5L291.00 154.8L291.40 154.7L291.80 155.4L292.20 154.7L292.60 155.8L293.00 155.7L293.50 155.2L293.70 153.8L294.10 141.0L294.70 124.7L295.00 124.4L295.40 123.2L295.60 122.2L295.80 121.9L296.20 122.6L296.50 122.2L296.90 134.7L297.50 151.2L297.80 152.3L298.20 153.2L298.50 153.9L299.00 154.2L299.40 154.2L299.80 154.4L300.20 154.2L300.60 154.1L301.00 155.1L301.40 155.2L301.80 154.6L302.00 155.4L302.20 154.9L302.60 154.9L303.00 155.0L303.40 154.6L303.80 154.8L304.20 155.6L304.60 155.0L305.00 155.2L305.40 155.1L305.80 155.4L306.20 155.5L306.60 154.9L307.00 155.2L307.40 155.5L307.70 155.5L308.10 153.7L308.60 151.9L309.00 149.7L309.40 148.8L309.80 147.4L310.00 146.0L310.20 146.5L310.60 145.4L311.00 146.1L311.20 145.4L311.40 145.1L311.80 145.7L312.20 146.4L312.50 146.0L313.10 150.4L313.40 153.3L313.80 155.2L314.00 156.0L314.20 156.1L314.60 157.6L315.00 158.3L315.40 158.8L315.80 158.4L316.20 158.8L316.60 158.9L317.00 158.5L317.40 158.4L317.80 158.5L318.20 158.8L318.60 159.0L319.00 158.8L319.40 158.9L319.80 158.7L320.00 158.8L320.20 159.5L320.60 159.3L321.00 159.0L321.40 159.4L321.80 159.5L322.20 159.7L322.60 159.1L323.00 158.7L323.40 158.7L323.80 159.6L324.20 159.1L324.60 159.4L325.00 159.1L325.40 159.4L325.80 158.9L326.20 158.8L326.60 159.8L327.00 159.1L327.40 159.8L327.80 159.9L328.20 159.6L328.60 159.2L329.00 158.9L329.40 159.8L329.80 159.6L330.20 160.0L330.60 159.4L331.00 159.5L331.40 159.6L331.80 159.7L332.20 159.2L332.60 159.2L333.00 159.8L333.40 159.7L333.80 159.5L334.20 159.3L334.60 159.1L335.00 159.8L335.40 159.5L335.80 159.6L336.20 159.4L336.60 160.1L337.00 160.0L337.40 160.1L337.80 159.3L338.20 160.0L338.60 159.8L339.00 160.2L339.40 160.0L339.80 160.3L340.20 159.8L340.60 160.2L341.00 159.7L341.40 160.1L341.80 160.2L342.00 159.9L342.20 160.0L342.60 160.2L343.00 160.4L343.40 160.4L343.80 159.6L344.20 160.2L344.60 160.5L345.00 160.4L345.40 160.1L345.80 159.6L346.20 160.4L346.60 159.8L347.00 160.2L347.40 160.3L347.80 159.9L348.20 160.3L348.60 160.7L349.00 160.2L349.40 160.1L349.80 160.2L350.20 160.6L350.60 159.9L351.00 160.0L351.40 159.9L351.80 160.5L352.20 160.1L352.60 160.2L353.00 160.8L353.40 161.0L353.80 160.8L354.20 160.9L354.60 161.0L355.00 160.7L355.40 160.4L355.80 160.8L356.20 160.6L356.60 161.1L357.00 161.0L357.40 160.3L357.80 161.2L358.20 160.7L358.60 160.5L359.00 160.5L359.40 160.6L359.80 160.9L360.20 160.6L360.60 160.6L361.00 160.6L361.0 161.7Z" stroke="#000" stroke-width="0.5" stroke-linejoin="round"/>
<path d="M278.2 104.6H361.0" stroke="#666" stroke-width="1.1" fill="none"/>
<path d="M278.2 104.2V162.3M275.2 161.7H361.0" stroke="#000" stroke-width="1.1" fill="none"/>
<path d="M276.90 104.3V162.2" stroke="#111" stroke-width="1.8" stroke-dasharray="0.5 0.927" fill="none"/>
<path d="M277.9 162.70H361.0" stroke="#111" stroke-width="1.2" stroke-dasharray="0.55 1.910" fill="none"/>
<path d="M275.0 161.7H278.2" stroke="#000" stroke-width="0.8"/>
<text transform="translate(273.1 163.3) rotate(-90)" font-size="6.4" textLength="2.5" lengthAdjust="spacingAndGlyphs" stroke="#000" stroke-width="0.22">0</text>
<path d="M275.0 150.3H278.2" stroke="#000" stroke-width="0.8"/>
<text transform="translate(273.1 153.0) rotate(-90)" font-size="6.4" textLength="4.6" lengthAdjust="spacingAndGlyphs" stroke="#000" stroke-width="0.22">40</text>
<path d="M275.0 138.9H278.2" stroke="#000" stroke-width="0.8"/>
<text transform="translate(273.1 141.6) rotate(-90)" font-size="6.4" textLength="4.6" lengthAdjust="spacingAndGlyphs" stroke="#000" stroke-width="0.22">80</text>
<path d="M275.0 127.4H278.2" stroke="#000" stroke-width="0.8"/>
<text transform="translate(273.1 131.2) rotate(-90)" font-size="6.4" textLength="6.7" lengthAdjust="spacingAndGlyphs" stroke="#000" stroke-width="0.22">120</text>
<path d="M275.0 116.0H278.2" stroke="#000" stroke-width="0.8"/>
<text transform="translate(273.1 119.8) rotate(-90)" font-size="6.4" textLength="6.7" lengthAdjust="spacingAndGlyphs" stroke="#000" stroke-width="0.22">160</text>
<path d="M275.0 104.6H278.2" stroke="#000" stroke-width="0.8"/>
<text transform="translate(273.1 108.3) rotate(-90)" font-size="6.4" textLength="6.7" lengthAdjust="spacingAndGlyphs" stroke="#000" stroke-width="0.22">200</text>
<text x="277.4" y="168.5" font-size="5.0" textLength="2.7" lengthAdjust="spacingAndGlyphs" stroke="#000" stroke-width="0.3">0</text>
<text x="299.5" y="168.5" font-size="5.0" textLength="7.6" lengthAdjust="spacingAndGlyphs" stroke="#000" stroke-width="0.3">200</text>
<text x="324.2" y="168.5" font-size="5.0" textLength="7.6" lengthAdjust="spacingAndGlyphs" stroke="#000" stroke-width="0.3">400</text>
<text x="348.8" y="168.5" font-size="5.0" textLength="7.6" lengthAdjust="spacingAndGlyphs" stroke="#000" stroke-width="0.3">600</text>
<path d="M372.80 161.6L372.80 105.1L373.20 105.1L373.60 105.1L374.00 105.1L374.40 105.1L374.80 105.1L375.20 105.1L375.60 143.6L376.00 145.1L376.40 147.4L376.80 148.6L377.20 149.8L377.60 150.4L378.00 151.1L378.20 152.3L378.40 152.2L378.80 153.2L379.20 153.9L379.50 153.6L380.00 154.4L380.40 154.8L380.80 154.6L381.20 154.1L381.60 154.9L382.00 154.3L382.40 153.9L382.80 153.2L383.20 153.3L383.70 152.7L384.00 153.2L384.40 153.7L384.80 154.3L385.00 155.2L385.20 154.6L385.60 154.6L386.00 154.6L386.40 154.3L386.80 153.6L387.20 154.6L387.60 153.6L388.00 154.2L388.40 153.7L388.80 154.7L389.20 153.6L389.60 154.5L390.00 153.8L390.40 154.9L390.60 154.7L390.80 153.7L391.00 153.8L391.20 150.2L391.50 144.6L392.00 138.9L392.50 134.6L392.80 132.7L393.20 129.0L393.60 128.9L394.00 130.3L394.50 140.9L394.80 144.8L395.00 147.1L395.20 148.5L395.60 149.6L396.00 151.0L396.40 151.9L396.90 153.2L397.20 153.4L397.60 153.3L398.00 153.9L398.40 152.9L398.80 153.1L399.20 153.5L399.60 153.2L400.00 153.5L400.40 153.6L400.80 153.8L401.00 153.3L401.20 153.2L401.60 153.1L402.00 153.5L402.50 152.4L402.80 153.0L403.20 153.2L403.60 153.6L404.00 153.6L404.40 154.7L404.80 154.3L405.20 153.7L405.60 154.1L406.00 154.7L406.40 154.2L406.80 153.9L407.20 154.7L407.50 154.1L407.70 155.1L408.00 152.8L408.40 152.0L408.70 151.3L409.20 146.6L409.70 143.4L410.00 140.6L410.40 138.0L410.60 137.1L410.80 137.1L411.20 136.3L411.60 137.7L412.00 136.4L412.40 136.6L412.80 137.3L413.10 136.9L413.70 143.4L414.00 146.0L414.40 149.0L414.80 153.2L415.20 156.2L415.60 157.3L416.00 159.5L416.40 159.0L416.80 158.8L417.20 159.2L417.60 159.5L418.00 159.0L418.40 159.0L418.80 159.1L419.20 159.4L419.60 159.1L420.00 159.3L420.40 160.0L420.80 159.8L421.20 160.0L421.60 160.1L422.00 159.8L422.40 159.3L422.80 159.3L423.20 160.1L423.60 160.0L424.00 159.8L424.40 159.3L424.80 159.6L425.20 159.3L425.60 160.2L426.00 159.2L426.40 160.0L426.80 159.6L427.20 159.4L427.60 159.5L428.00 160.1L428.40 159.6L428.80 159.9L429.20 160.3L429.60 160.0L430.00 160.0L430.40 159.7L430.80 160.1L431.20 159.7L431.60 159.7L432.00 160.2L432.40 160.2L432.80 159.7L433.20 159.9L433.60 160.3L434.00 160.3L434.40 159.5L434.80 159.8L435.20 160.1L435.60 160.3L436.00 159.5L436.40 159.8L436.80 159.7L437.20 160.1L437.60 160.2L438.00 160.1L438.40 160.4L438.80 159.9L439.20 160.1L439.60 159.7L440.00 160.1L440.40 160.1L440.80 160.1L441.20 159.7L441.60 160.3L442.00 159.9L442.40 160.4L442.80 160.1L443.20 160.4L443.60 159.8L444.00 160.4L444.40 159.8L444.80 160.0L445.20 160.3L445.60 159.8L446.00 160.3L446.40 160.0L446.80 160.2L447.20 160.3L447.60 160.7L448.00 160.4L448.40 160.5L448.80 160.4L449.20 159.9L449.60 160.5L450.00 160.2L450.40 160.2L450.80 160.6L451.20 160.5L451.60 160.8L452.00 160.0L452.40 160.7L452.80 160.5L453.20 160.6L453.60 160.1L454.00 160.1L454.40 160.4L454.80 160.4L455.20 160.9L455.60 160.1L456.00 160.9L456.40 160.7L456.80 160.7L457.20 160.3L457.60 160.4L458.00 160.7L458.40 160.2L458.80 160.2L459.20 161.1L459.60 160.5L460.00 160.7L460.40 160.8L460.80 160.7L461.20 160.9L461.60 160.5L462.00 160.6L462.0 161.6Z" stroke="#000" stroke-width="0.5" stroke-linejoin="round"/>
<path d="M373.2 105.1H462.0" stroke="#666" stroke-width="1.1" fill="none"/>
<path d="M373.2 104.7V162.2M370.2 161.6H462.0" stroke="#000" stroke-width="1.1" fill="none"/>
<path d="M371.90 104.8V162.1" stroke="#111" stroke-width="1.8" stroke-dasharray="0.5 0.913" fill="none"/>
<path d="M372.9 162.60H462.0" stroke="#111" stroke-width="1.2" stroke-dasharray="0.55 2.017" fill="none"/>
<path d="M370.0 161.6H373.2" stroke="#000" stroke-width="0.8"/>
<text transform="translate(368.1 163.2) rotate(-90)" font-size="6.4" textLength="2.5" lengthAdjust="spacingAndGlyphs" stroke="#000" stroke-width="0.22">0</text>
<path d="M370.0 150.3H373.2" stroke="#000" stroke-width="0.8"/>
<text transform="translate(368.1 153.0) rotate(-90)" font-size="6.4" textLength="4.6" lengthAdjust="spacingAndGlyphs" stroke="#000" stroke-width="0.22">40</text>
<path d="M370.0 139.0H373.2" stroke="#000" stroke-width="0.8"/>
<text transform="translate(368.1 141.7) rotate(-90)" font-size="6.4" textLength="4.6" lengthAdjust="spacingAndGlyphs" stroke="#000" stroke-width="0.22">80</text>
<path d="M370.0 127.7H373.2" stroke="#000" stroke-width="0.8"/>
<text transform="translate(368.1 131.4) rotate(-90)" font-size="6.4" textLength="6.7" lengthAdjust="spacingAndGlyphs" stroke="#000" stroke-width="0.22">120</text>
<path d="M370.0 116.4H373.2" stroke="#000" stroke-width="0.8"/>
<text transform="translate(368.1 120.1) rotate(-90)" font-size="6.4" textLength="6.7" lengthAdjust="spacingAndGlyphs" stroke="#000" stroke-width="0.22">160</text>
<path d="M370.0 105.1H373.2" stroke="#000" stroke-width="0.8"/>
<text transform="translate(368.1 108.8) rotate(-90)" font-size="6.4" textLength="6.7" lengthAdjust="spacingAndGlyphs" stroke="#000" stroke-width="0.22">200</text>
<text x="372.2" y="168.4" font-size="5.0" textLength="2.7" lengthAdjust="spacingAndGlyphs" stroke="#000" stroke-width="0.3">0</text>
<text x="396.4" y="168.4" font-size="5.0" textLength="7.6" lengthAdjust="spacingAndGlyphs" stroke="#000" stroke-width="0.3">200</text>
<text x="423.5" y="168.4" font-size="5.0" textLength="7.6" lengthAdjust="spacingAndGlyphs" stroke="#000" stroke-width="0.3">400</text>
<text x="449.8" y="168.4" font-size="5.0" textLength="7.6" lengthAdjust="spacingAndGlyphs" stroke="#000" stroke-width="0.3">600</text>
<path d="M79.90 231.5L79.90 174.2L80.30 174.2L80.70 174.2L81.10 174.2L81.50 174.2L81.90 174.2L82.30 174.2L82.40 211.5L82.70 217.2L83.00 221.6L83.50 222.8L83.90 223.4L84.20 224.7L84.70 224.0L85.10 225.3L85.50 225.3L85.90 225.8L86.30 225.8L86.70 225.6L87.10 226.5L87.50 226.5L87.90 226.0L88.30 226.2L88.70 226.1L89.10 226.8L89.50 226.3L89.90 226.5L90.30 226.5L90.50 227.3L90.70 226.9L91.10 227.5L91.50 226.5L91.90 226.4L92.30 226.5L92.70 227.5L93.10 227.1L93.50 226.9L93.90 226.9L94.30 227.4L94.70 226.7L95.10 227.2L95.50 227.0L95.90 227.5L96.30 226.9L96.70 227.5L97.10 227.5L97.50 227.0L97.90 227.3L98.30 226.7L98.70 227.4L99.10 227.2L99.50 227.6L99.90 227.4L100.30 225.9L100.70 224.5L101.10 223.4L101.50 224.1L102.00 226.6L102.30 225.8L102.70 226.8L103.00 225.9L103.50 226.2L103.90 226.0L104.30 225.5L104.70 225.0L104.90 224.7L105.10 225.4L105.50 226.0L105.90 225.9L106.30 225.1L106.70 225.2L107.10 225.3L107.50 226.1L108.00 225.7L108.30 226.2L108.70 225.9L109.10 225.5L109.50 224.4L109.90 224.7L110.30 224.2L110.70 225.1L111.10 224.4L111.50 224.5L111.90 224.0L112.30 223.9L112.70 222.4L113.10 222.9L113.60 222.3L113.90 221.3L114.30 219.9L114.70 218.7L114.90 218.9L115.10 217.7L115.50 214.6L115.90 213.0L116.10 211.6L116.30 209.9L116.70 208.0L117.10 205.1L117.40 202.9L117.90 198.3L118.20 195.5L118.70 193.1L119.20 190.5L119.50 190.8L119.90 188.9L120.10 189.1L120.30 189.8L120.70 191.3L121.10 192.9L121.50 199.1L121.70 201.5L121.90 204.6L122.40 211.5L122.70 215.3L123.20 221.9L123.50 223.6L124.00 227.9L124.30 229.0L124.70 229.3L124.90 229.1L125.10 230.1L125.50 229.5L125.90 229.1L126.30 229.8L126.70 229.5L127.10 229.8L127.50 229.8L127.90 229.5L128.30 229.6L128.70 229.8L129.10 229.7L129.50 229.6L129.90 229.4L130.30 230.1L130.70 230.1L131.10 229.9L131.50 229.9L131.90 229.4L132.30 229.8L132.70 229.3L133.10 229.8L133.50 229.9L133.90 229.5L134.30 230.1L134.70 229.2L135.10 229.4L135.50 229.9L135.90 229.9L136.30 229.4L136.70 229.5L137.10 229.6L137.50 230.2L137.90 229.5L138.30 230.2L138.70 229.7L139.10 229.7L139.50 229.4L140.00 229.7L140.30 230.3L140.70 229.4L141.10 229.6L141.50 229.8L141.90 230.3L142.30 229.6L142.70 229.9L143.10 229.7L143.50 229.4L143.90 229.5L144.30 230.3L144.70 229.6L145.10 230.0L145.50 229.7L145.90 230.1L146.30 230.0L146.70 230.0L147.10 230.3L147.50 230.1L147.90 229.7L148.30 230.4L148.70 230.4L149.10 229.7L149.50 229.9L149.90 230.0L150.30 230.4L150.70 230.4L151.10 230.2L151.50 229.6L151.90 230.0L152.30 229.7L152.70 230.4L153.10 230.2L153.50 230.1L153.90 229.8L154.30 230.5L154.70 229.8L155.10 230.2L155.50 230.6L155.90 230.2L156.30 230.3L156.70 230.0L157.10 229.8L157.50 230.2L157.90 230.0L158.30 230.3L158.70 230.0L159.10 230.6L159.50 230.0L159.90 230.6L160.30 230.2L160.70 230.6L161.10 230.4L161.50 230.6L161.90 230.4L162.30 230.2L162.70 230.3L163.10 230.4L163.50 230.3L163.90 230.0L164.30 230.5L164.70 230.3L165.10 230.4L165.50 229.9L165.90 230.6L166.30 230.2L166.50 230.7L166.5 231.5Z" stroke="#000" stroke-width="0.5" stroke-linejoin="round"/>
<path d="M80.7 174.2H167.6" stroke="#666" stroke-width="1.1" fill="none"/>
<path d="M80.7 173.8V232.1M77.7 231.5H167.6" stroke="#000" stroke-width="1.1" fill="none"/>
<path d="M79.40 173.9V232.0" stroke="#111" stroke-width="1.8" stroke-dasharray="0.5 0.933" fill="none"/>
<path d="M80.4 232.50H167.6" stroke="#111" stroke-width="1.2" stroke-dasharray="0.55 2.017" fill="none"/>
<path d="M77.5 231.5H80.7" stroke="#000" stroke-width="0.8"/>
<text transform="translate(75.6 233.2) rotate(-90)" font-size="6.4" textLength="2.5" lengthAdjust="spacingAndGlyphs" stroke="#000" stroke-width="0.22">0</text>
<path d="M77.5 220.0H80.7" stroke="#000" stroke-width="0.8"/>
<text transform="translate(75.6 222.7) rotate(-90)" font-size="6.4" textLength="4.6" lengthAdjust="spacingAndGlyphs" stroke="#000" stroke-width="0.22">40</text>
<path d="M77.5 208.6H80.7" stroke="#000" stroke-width="0.8"/>
<text transform="translate(75.6 211.3) rotate(-90)" font-size="6.4" textLength="4.6" lengthAdjust="spacingAndGlyphs" stroke="#000" stroke-width="0.22">80</text>
<path d="M77.5 197.1H80.7" stroke="#000" stroke-width="0.8"/>
<text transform="translate(75.6 200.9) rotate(-90)" font-size="6.4" textLength="6.7" lengthAdjust="spacingAndGlyphs" stroke="#000" stroke-width="0.22">120</text>
<path d="M77.5 185.7H80.7" stroke="#000" stroke-width="0.8"/>
<text transform="translate(75.6 189.4) rotate(-90)" font-size="6.4" textLength="6.7" lengthAdjust="spacingAndGlyphs" stroke="#000" stroke-width="0.22">160</text>
<path d="M77.5 174.2H80.7" stroke="#000" stroke-width="0.8"/>
<text transform="translate(75.6 177.9) rotate(-90)" font-size="6.4" textLength="6.7" lengthAdjust="spacingAndGlyphs" stroke="#000" stroke-width="0.22">200</text>
<text x="80.2" y="238.3" font-size="5.0" textLength="2.7" lengthAdjust="spacingAndGlyphs" stroke="#000" stroke-width="0.3">0</text>
<text x="103.4" y="238.3" font-size="5.0" textLength="7.6" lengthAdjust="spacingAndGlyphs" stroke="#000" stroke-width="0.3">200</text>
<text x="129.6" y="238.3" font-size="5.0" textLength="7.6" lengthAdjust="spacingAndGlyphs" stroke="#000" stroke-width="0.3">400</text>
<text x="153.8" y="238.3" font-size="5.0" textLength="7.6" lengthAdjust="spacingAndGlyphs" stroke="#000" stroke-width="0.3">600</text>
<path d="M178.90 231.5L178.90 174.7L179.30 174.7L179.70 174.7L180.10 174.7L180.50 174.7L180.90 174.7L181.20 174.7L181.40 207.9L181.70 209.1L182.20 217.9L182.50 221.1L183.00 226.0L183.30 226.8L183.70 228.1L183.90 228.5L184.10 228.8L184.50 228.3L184.90 229.1L185.30 229.0L185.70 228.5L186.00 229.4L186.50 228.7L186.90 228.8L187.30 228.8L187.70 229.1L188.10 229.3L188.50 228.4L188.90 228.6L189.30 228.6L189.70 229.3L190.10 228.6L190.50 229.2L190.90 229.2L191.30 228.9L191.70 228.8L192.10 229.3L192.50 228.6L192.90 228.8L193.30 228.5L193.70 228.5L194.10 228.7L194.50 229.0L194.90 228.4L195.30 228.7L195.70 229.1L196.10 228.5L196.40 228.7L196.70 228.2L196.90 226.7L197.20 224.7L197.70 211.6L198.10 207.0L198.50 201.6L198.90 199.1L199.20 196.6L199.70 198.2L200.00 199.1L200.50 206.6L200.90 212.8L201.10 215.4L201.30 217.3L201.70 223.4L202.10 223.5L202.60 225.0L202.90 225.3L203.30 225.5L203.70 225.3L204.00 225.7L204.50 225.5L204.90 225.2L205.30 225.4L205.70 226.0L206.10 226.3L206.50 225.2L206.90 225.9L207.30 225.3L207.70 226.0L208.10 225.8L208.50 225.9L208.90 225.4L209.30 225.1L209.70 225.7L210.10 225.6L210.50 225.9L210.90 226.0L211.30 225.1L211.70 226.2L212.00 225.2L212.60 223.9L212.90 223.8L213.30 221.5L213.70 221.6L213.90 220.3L214.10 219.4L214.50 214.9L214.70 214.1L214.90 211.6L215.30 209.2L215.50 206.6L215.70 205.4L216.10 201.0L216.50 201.1L216.90 200.7L217.20 201.6L217.70 205.0L218.00 207.9L218.60 216.6L218.90 219.8L219.30 222.4L219.50 224.5L219.70 224.9L220.10 226.9L220.50 228.5L220.90 229.2L221.40 229.2L221.70 229.5L222.10 229.4L222.50 229.8L222.90 229.4L223.30 229.4L223.70 228.9L224.10 229.4L224.50 229.8L224.90 229.6L225.30 229.6L225.70 229.2L226.10 229.0L226.50 229.0L226.90 229.0L227.30 229.0L227.70 229.1L228.10 229.0L228.50 230.0L228.90 229.5L229.30 229.4L229.70 229.3L230.10 229.4L230.50 229.4L230.90 229.1L231.30 229.9L231.70 229.5L232.10 229.0L232.50 230.0L232.90 229.9L233.30 229.2L233.70 229.1L234.10 230.0L234.50 230.0L234.90 229.2L235.30 229.4L235.70 229.5L236.10 229.5L236.50 229.3L236.90 229.3L237.30 230.1L237.70 230.0L238.10 229.3L238.50 229.1L238.90 229.2L239.30 229.7L239.70 229.8L240.00 229.8L240.50 230.1L240.90 229.4L241.30 229.9L241.70 229.6L242.10 229.6L242.50 229.8L242.90 229.5L243.30 229.7L243.70 230.0L244.10 229.3L244.50 230.0L244.90 230.1L245.30 230.0L245.70 229.8L246.10 229.5L246.50 229.9L246.90 230.0L247.30 229.6L247.70 230.0L248.10 229.8L248.50 230.1L248.90 229.5L249.30 230.2L249.70 230.1L250.10 230.1L250.50 230.1L250.90 229.7L251.30 229.7L251.70 229.6L252.10 229.9L252.50 230.4L252.90 229.7L253.30 230.2L253.70 230.2L254.10 230.1L254.50 229.5L254.90 230.1L255.30 230.2L255.70 229.6L256.10 229.5L256.50 230.2L256.90 230.4L257.30 229.8L257.70 229.8L258.10 230.2L258.50 229.8L258.90 230.2L259.30 230.3L259.70 230.0L260.10 229.9L260.50 230.2L260.90 229.9L261.30 230.6L261.70 230.2L262.10 230.3L262.50 230.6L262.90 229.8L263.30 230.6L263.70 230.5L264.10 229.9L264.50 229.8L264.90 229.9L265.30 230.4L265.70 229.9L266.00 230.6L266.0 231.5Z" stroke="#000" stroke-width="0.5" stroke-linejoin="round"/>
<path d="M180.3 174.7H265.4" stroke="#666" stroke-width="1.1" fill="none"/>
<path d="M180.3 174.3V232.1M177.3 231.5H265.4" stroke="#000" stroke-width="1.1" fill="none"/>
<path d="M179.00 174.4V232.0" stroke="#111" stroke-width="1.8" stroke-dasharray="0.5 0.920" fill="none"/>
<path d="M180.0 232.50H265.4" stroke="#111" stroke-width="1.2" stroke-dasharray="0.55 1.950" fill="none"/>
<path d="M177.1 231.5H180.3" stroke="#000" stroke-width="0.8"/>
<text transform="translate(175.2 233.2) rotate(-90)" font-size="6.4" textLength="2.5" lengthAdjust="spacingAndGlyphs" stroke="#000" stroke-width="0.22">0</text>
<path d="M177.1 220.1H180.3" stroke="#000" stroke-width="0.8"/>
<text transform="translate(175.2 222.8) rotate(-90)" font-size="6.4" textLength="4.6" lengthAdjust="spacingAndGlyphs" stroke="#000" stroke-width="0.22">40</text>
<path d="M177.1 208.8H180.3" stroke="#000" stroke-width="0.8"/>
<text transform="translate(175.2 211.5) rotate(-90)" font-size="6.4" textLength="4.6" lengthAdjust="spacingAndGlyphs" stroke="#000" stroke-width="0.22">80</text>
<path d="M177.1 197.4H180.3" stroke="#000" stroke-width="0.8"/>
<text transform="translate(175.2 201.2) rotate(-90)" font-size="6.4" textLength="6.7" lengthAdjust="spacingAndGlyphs" stroke="#000" stroke-width="0.22">120</text>
<path d="M177.1 186.1H180.3" stroke="#000" stroke-width="0.8"/>
<text transform="translate(175.2 189.8) rotate(-90)" font-size="6.4" textLength="6.7" lengthAdjust="spacingAndGlyphs" stroke="#000" stroke-width="0.22">160</text>
<path d="M177.1 174.7H180.3" stroke="#000" stroke-width="0.8"/>
<text transform="translate(175.2 178.4) rotate(-90)" font-size="6.4" textLength="6.7" lengthAdjust="spacingAndGlyphs" stroke="#000" stroke-width="0.22">200</text>
<text x="178.8" y="238.3" font-size="5.0" textLength="2.7" lengthAdjust="spacingAndGlyphs" stroke="#000" stroke-width="0.3">0</text>
<text x="201.4" y="238.3" font-size="5.0" textLength="7.6" lengthAdjust="spacingAndGlyphs" stroke="#000" stroke-width="0.3">200</text>
<text x="226.4" y="238.3" font-size="5.0" textLength="7.6" lengthAdjust="spacingAndGlyphs" stroke="#000" stroke-width="0.3">400</text>
<text x="250.2" y="238.3" font-size="5.0" textLength="7.6" lengthAdjust="spacingAndGlyphs" stroke="#000" stroke-width="0.3">600</text>
<path d="M276.90 231.5L276.90 174.3L277.30 174.3L277.70 174.3L277.80 186.5L278.10 191.8L278.50 199.5L278.90 202.3L279.30 205.2L279.70 209.2L280.00 211.5L280.50 216.3L280.90 219.4L281.20 220.8L281.70 223.1L282.10 223.7L282.50 224.3L282.90 225.0L283.30 225.0L283.70 225.4L284.10 225.8L284.50 225.6L285.00 226.0L285.30 226.2L285.70 226.4L286.10 227.1L286.50 227.0L286.90 228.4L287.30 228.3L287.70 228.5L288.10 228.3L288.50 227.9L288.90 227.8L289.30 228.4L289.70 228.8L290.00 228.7L290.50 227.8L290.90 227.6L291.30 226.5L291.70 225.8L292.10 225.9L292.50 225.3L292.90 224.1L293.30 223.8L293.70 223.3L294.10 222.9L294.50 223.4L295.00 225.4L295.30 224.7L295.70 225.6L296.10 226.4L296.50 226.6L296.90 227.0L297.30 226.0L297.70 226.4L298.10 226.4L298.50 225.9L298.70 225.0L298.90 225.2L299.30 224.6L299.70 224.4L300.10 224.4L300.60 224.2L300.90 224.2L301.30 225.1L301.70 225.4L301.90 225.2L302.10 225.7L302.50 225.7L302.90 225.7L303.10 226.2L303.30 226.0L303.70 224.9L304.10 224.9L304.50 224.7L305.00 224.0L305.30 223.9L305.70 223.6L306.20 222.3L306.50 221.0L307.00 216.6L307.30 211.7L307.70 206.6L308.10 202.7L308.50 197.7L308.70 195.5L308.90 194.7L309.30 192.6L309.70 189.8L310.10 189.8L310.60 188.9L310.90 191.4L311.20 192.9L311.70 200.4L311.90 202.9L312.10 206.3L312.50 214.1L312.90 219.9L313.10 222.9L313.30 223.4L313.70 226.2L314.00 228.0L314.50 229.0L315.00 229.1L315.30 229.3L315.70 229.0L316.10 229.0L316.50 229.2L316.90 229.6L317.30 229.1L317.70 229.2L318.10 229.0L318.50 228.7L318.90 229.4L319.30 229.2L319.70 229.6L320.10 228.9L320.50 229.5L320.90 228.9L321.30 228.9L321.70 229.5L322.10 228.8L322.50 229.2L322.90 229.3L323.30 229.2L323.70 228.8L324.10 229.3L324.50 229.3L324.90 229.5L325.30 229.0L325.70 229.3L326.10 229.5L326.50 229.6L326.90 229.6L327.30 229.0L327.70 229.0L328.10 228.9L328.50 228.9L328.90 229.2L329.30 229.1L329.70 229.2L330.00 229.1L330.50 229.1L330.90 229.8L331.30 229.1L331.70 229.7L332.10 229.7L332.50 229.1L332.90 230.0L333.30 229.5L333.70 229.7L334.10 229.2L334.50 229.4L334.90 229.1L335.30 229.1L335.70 229.4L336.10 230.0L336.50 229.4L336.90 230.0L337.30 229.1L337.70 229.3L338.10 229.9L338.50 230.0L338.90 229.5L339.30 229.4L339.70 229.2L340.10 229.6L340.50 230.1L340.90 229.5L341.30 230.2L341.70 229.4L342.10 229.5L342.50 229.5L342.90 229.4L343.30 229.8L343.70 229.4L344.10 229.7L344.50 229.9L344.90 230.0L345.30 230.0L345.70 230.4L346.10 230.3L346.50 229.6L346.90 230.2L347.30 229.8L347.70 229.7L348.10 229.8L348.50 230.0L348.90 230.2L349.30 230.2L349.70 230.3L350.10 229.9L350.50 229.9L350.90 229.6L351.30 230.3L351.70 229.7L352.10 229.7L352.50 230.3L352.90 229.7L353.30 230.0L353.70 229.7L354.10 229.9L354.50 230.4L354.90 230.4L355.30 230.2L355.70 230.2L356.10 230.7L356.50 229.9L356.90 230.2L357.30 230.3L357.70 230.1L358.10 230.5L358.50 230.6L358.90 230.3L359.30 230.6L359.70 230.5L360.10 230.8L360.50 230.8L361.00 230.5L361.0 231.5Z" stroke="#000" stroke-width="0.5" stroke-linejoin="round"/>
<path d="M278.2 174.3H361.0" stroke="#666" stroke-width="1.1" fill="none"/>
<path d="M278.2 173.9V232.1M275.2 231.5H361.0" stroke="#000" stroke-width="1.1" fill="none"/>
<path d="M276.90 174.1V232.0" stroke="#111" stroke-width="1.8" stroke-dasharray="0.5 0.930" fill="none"/>
<path d="M277.9 232.50H361.0" stroke="#111" stroke-width="1.2" stroke-dasharray="0.55 1.910" fill="none"/>
<path d="M275.0 231.5H278.2" stroke="#000" stroke-width="0.8"/>
<text transform="translate(273.1 233.2) rotate(-90)" font-size="6.4" textLength="2.5" lengthAdjust="spacingAndGlyphs" stroke="#000" stroke-width="0.22">0</text>
<path d="M275.0 220.1H278.2" stroke="#000" stroke-width="0.8"/>
<text transform="translate(273.1 222.8) rotate(-90)" font-size="6.4" textLength="4.6" lengthAdjust="spacingAndGlyphs" stroke="#000" stroke-width="0.22">40</text>
<path d="M275.0 208.6H278.2" stroke="#000" stroke-width="0.8"/>
<text transform="translate(273.1 211.3) rotate(-90)" font-size="6.4" textLength="4.6" lengthAdjust="spacingAndGlyphs" stroke="#000" stroke-width="0.22">80</text>
<path d="M275.0 197.2H278.2" stroke="#000" stroke-width="0.8"/>
<text transform="translate(273.1 200.9) rotate(-90)" font-size="6.4" textLength="6.7" lengthAdjust="spacingAndGlyphs" stroke="#000" stroke-width="0.22">120</text>
<path d="M275.0 185.7H278.2" stroke="#000" stroke-width="0.8"/>
<text transform="translate(273.1 189.5) rotate(-90)" font-size="6.4" textLength="6.7" lengthAdjust="spacingAndGlyphs" stroke="#000" stroke-width="0.22">160</text>
<path d="M275.0 174.3H278.2" stroke="#000" stroke-width="0.8"/>
<text transform="translate(273.1 178.1) rotate(-90)" font-size="6.4" textLength="6.7" lengthAdjust="spacingAndGlyphs" stroke="#000" stroke-width="0.22">200</text>
<text x="277.4" y="238.3" font-size="5.0" textLength="2.7" lengthAdjust="spacingAndGlyphs" stroke="#000" stroke-width="0.3">0</text>
<text x="299.5" y="238.3" font-size="5.0" textLength="7.6" lengthAdjust="spacingAndGlyphs" stroke="#000" stroke-width="0.3">200</text>
<text x="324.2" y="238.3" font-size="5.0" textLength="7.6" lengthAdjust="spacingAndGlyphs" stroke="#000" stroke-width="0.3">400</text>
<text x="348.8" y="238.3" font-size="5.0" textLength="7.6" lengthAdjust="spacingAndGlyphs" stroke="#000" stroke-width="0.3">600</text>
<path d="M371.90 231.6L371.90 174.5L372.30 174.5L372.70 174.5L373.10 174.5L373.50 174.5L373.90 174.5L374.30 174.5L374.40 211.6L374.70 216.7L375.00 220.7L375.50 222.1L376.00 223.8L376.30 224.5L376.70 224.9L377.10 225.0L377.50 225.6L377.90 225.8L378.30 224.8L378.70 223.5L379.10 224.7L379.50 225.8L380.00 225.8L380.30 226.7L380.70 226.7L381.10 226.3L381.50 226.7L381.90 226.3L382.30 226.4L382.50 226.9L382.70 226.3L383.10 226.2L383.50 226.0L383.90 226.1L384.30 225.9L384.70 226.1L385.10 225.5L385.50 224.7L385.90 224.5L386.20 225.5L386.70 225.6L387.10 225.4L387.50 225.0L387.90 225.4L388.30 225.9L388.70 225.6L389.10 225.5L389.50 225.4L389.90 226.0L390.30 225.8L390.60 225.9L391.20 221.5L391.50 220.8L391.90 218.0L392.30 218.4L392.70 218.3L393.10 217.4L393.50 219.0L394.00 219.2L394.30 220.7L394.70 222.4L395.10 222.7L395.60 221.0L395.90 220.7L396.30 220.8L396.70 220.0L396.90 220.2L397.10 218.8L397.50 219.6L397.90 218.6L398.10 218.0L398.30 217.3L398.70 217.6L399.10 217.5L399.50 217.2L400.00 216.7L400.30 217.0L400.70 216.0L401.10 216.0L401.50 216.3L401.90 216.1L402.30 216.4L402.70 216.6L403.10 216.7L403.50 216.9L403.90 217.6L404.40 218.0L404.70 218.0L405.10 219.2L405.60 219.9L405.90 219.9L406.30 221.3L406.70 222.2L406.90 221.8L407.10 221.5L407.50 221.5L407.70 221.8L407.90 220.5L408.30 218.5L408.50 218.0L408.70 217.1L409.10 215.6L409.40 215.5L409.90 215.1L410.30 215.4L410.60 215.2L411.10 216.2L411.50 215.8L411.90 216.7L412.30 217.8L412.70 220.7L413.10 222.0L413.50 224.8L413.90 226.0L414.40 227.7L414.70 228.6L415.10 228.6L415.60 229.5L415.90 229.3L416.30 228.7L416.70 229.5L417.10 228.8L417.50 229.7L417.90 229.1L418.30 228.9L418.70 228.9L419.10 229.3L419.50 229.1L419.90 229.0L420.30 229.0L420.70 229.0L421.10 229.2L421.50 229.5L421.90 229.0L422.30 229.2L422.70 229.2L423.10 228.7L423.50 229.6L423.90 229.0L424.30 229.4L424.70 229.0L425.10 228.8L425.50 229.5L425.90 229.2L426.30 229.2L426.70 229.3L427.10 229.6L427.50 229.2L427.90 228.9L428.30 229.1L428.70 229.5L429.10 229.0L429.50 229.4L430.00 229.7L430.30 229.2L430.70 229.4L431.10 229.3L431.50 228.8L431.90 229.3L432.30 228.9L432.70 229.5L433.10 229.1L433.50 229.8L433.90 229.6L434.30 229.2L434.70 229.2L435.10 229.1L435.50 229.5L435.90 229.6L436.30 229.6L436.70 229.4L437.10 229.9L437.50 229.6L437.90 229.3L438.30 229.8L438.70 229.7L439.10 229.1L439.50 229.0L439.90 229.7L440.30 229.8L440.70 229.9L441.10 229.9L441.50 229.2L441.90 229.3L442.30 229.8L442.70 229.5L443.10 229.3L443.50 230.0L443.90 229.2L444.30 229.2L444.70 229.9L445.10 229.4L445.50 229.4L445.90 229.8L446.30 229.2L446.70 229.9L447.10 229.6L447.50 229.8L447.90 229.7L448.30 229.3L448.70 229.6L449.10 229.5L449.50 229.2L449.90 230.0L450.30 230.0L450.70 229.6L451.10 230.1L451.50 229.2L451.90 229.9L452.30 229.8L452.70 229.8L453.10 229.4L453.50 229.3L453.90 229.6L454.30 230.1L454.70 229.9L455.10 229.6L455.50 230.1L455.90 229.4L456.30 229.4L456.70 230.1L457.10 229.9L457.50 230.1L457.90 229.6L458.30 230.3L458.70 229.6L459.10 230.3L459.50 229.5L459.90 229.8L460.30 229.8L460.70 230.3L461.10 230.3L461.50 230.0L462.00 229.4L462.0 231.6Z" stroke="#000" stroke-width="0.5" stroke-linejoin="round"/>
<path d="M373.2 174.5H462.0" stroke="#666" stroke-width="1.1" fill="none"/>
<path d="M373.2 174.1V232.2M370.2 231.6H462.0" stroke="#000" stroke-width="1.1" fill="none"/>
<path d="M371.90 174.2V232.1" stroke="#111" stroke-width="1.8" stroke-dasharray="0.5 0.927" fill="none"/>
<path d="M372.9 232.60H462.0" stroke="#111" stroke-width="1.2" stroke-dasharray="0.55 2.017" fill="none"/>
<path d="M370.0 231.6H373.2" stroke="#000" stroke-width="0.8"/>
<text transform="translate(368.1 233.2) rotate(-90)" font-size="6.4" textLength="2.5" lengthAdjust="spacingAndGlyphs" stroke="#000" stroke-width="0.22">0</text>
<path d="M370.0 220.2H373.2" stroke="#000" stroke-width="0.8"/>
<text transform="translate(368.1 222.9) rotate(-90)" font-size="6.4" textLength="4.6" lengthAdjust="spacingAndGlyphs" stroke="#000" stroke-width="0.22">40</text>
<path d="M370.0 208.8H373.2" stroke="#000" stroke-width="0.8"/>
<text transform="translate(368.1 211.5) rotate(-90)" font-size="6.4" textLength="4.6" lengthAdjust="spacingAndGlyphs" stroke="#000" stroke-width="0.22">80</text>
<path d="M370.0 197.3H373.2" stroke="#000" stroke-width="0.8"/>
<text transform="translate(368.1 201.1) rotate(-90)" font-size="6.4" textLength="6.7" lengthAdjust="spacingAndGlyphs" stroke="#000" stroke-width="0.22">120</text>
<path d="M370.0 185.9H373.2" stroke="#000" stroke-width="0.8"/>
<text transform="translate(368.1 189.7) rotate(-90)" font-size="6.4" textLength="6.7" lengthAdjust="spacingAndGlyphs" stroke="#000" stroke-width="0.22">160</text>
<path d="M370.0 174.5H373.2" stroke="#000" stroke-width="0.8"/>
<text transform="translate(368.1 178.2) rotate(-90)" font-size="6.4" textLength="6.7" lengthAdjust="spacingAndGlyphs" stroke="#000" stroke-width="0.22">200</text>
<text x="372.9" y="238.4" font-size="5.0" textLength="2.7" lengthAdjust="spacingAndGlyphs" stroke="#000" stroke-width="0.3">0</text>
<text x="396.2" y="238.4" font-size="5.0" textLength="7.6" lengthAdjust="spacingAndGlyphs" stroke="#000" stroke-width="0.3">200</text>
<text x="422.4" y="238.4" font-size="5.0" textLength="7.6" lengthAdjust="spacingAndGlyphs" stroke="#000" stroke-width="0.3">400</text>
<text x="447.5" y="238.4" font-size="5.0" textLength="7.6" lengthAdjust="spacingAndGlyphs" stroke="#000" stroke-width="0.3">600</text>
</g>
<g font-weight="bold" fill="#000">
<text x="49.0" y="12.3" font-size="17.2" textLength="11.7" lengthAdjust="spacingAndGlyphs" stroke="#000" stroke-width="0.6">A</text>
<text x="121.2" y="20.7" font-size="8.2" font-weight="normal" textLength="18.7" lengthAdjust="spacingAndGlyphs" stroke="#000" stroke-width="0.22">CEM</text>
<text x="210.2" y="20.7" font-size="8.2" font-weight="normal" textLength="30.4" lengthAdjust="spacingAndGlyphs" stroke="#000" stroke-width="0.22">HuT-102</text>
<text x="308.8" y="20.7" font-size="8.2" font-weight="normal" textLength="16.0" lengthAdjust="spacingAndGlyphs" stroke="#000" stroke-width="0.22">MT2</text>
<text x="408.5" y="20.7" font-size="8.2" font-weight="normal" textLength="22.5" lengthAdjust="spacingAndGlyphs" stroke="#000" stroke-width="0.22">Jurkat</text>
<text x="41.0" y="64.4" font-size="8.4" font-weight="normal" textLength="25.0" lengthAdjust="spacingAndGlyphs" stroke="#000" stroke-width="0.22">Control</text>
<text x="9.6" y="133.0" font-size="8.4" font-weight="normal" textLength="57.6" lengthAdjust="spacingAndGlyphs" stroke="#000" stroke-width="0.22">EAPB0203 1uM</text>
<text x="6.0" y="207.6" font-size="8.4" font-weight="normal" textLength="57.4" lengthAdjust="spacingAndGlyphs" stroke="#000" stroke-width="0.22">EAPB0203 5uM</text>
<rect x="39.00" y="437.53" width="11.30" height="5.27" fill="#fff" stroke="#000" stroke-width="1"/>
<rect x="50.30" y="434.36" width="11.30" height="8.44" fill="#000" stroke="#000" stroke-width="1"/>
<rect x="61.60" y="421.70" width="11.30" height="21.10" fill="#717171" stroke="#000" stroke-width="1"/>
<rect x="88.85" y="441.75" width="11.30" height="1.05" fill="#fff" stroke="#000" stroke-width="1"/>
<rect x="100.15" y="440.69" width="11.30" height="2.11" fill="#000" stroke="#000" stroke-width="1"/>
<rect x="111.45" y="400.60" width="11.30" height="42.20" fill="#717171" stroke="#000" stroke-width="1"/>
<rect x="139.65" y="434.36" width="11.30" height="8.44" fill="#fff" stroke="#000" stroke-width="1"/>
<rect x="150.95" y="426.98" width="11.30" height="15.82" fill="#000" stroke="#000" stroke-width="1"/>
<rect x="162.25" y="377.39" width="11.30" height="65.41" fill="#717171" stroke="#000" stroke-width="1"/>
<rect x="189.55" y="432.25" width="11.30" height="10.55" fill="#fff" stroke="#000" stroke-width="1"/>
<rect x="200.85" y="415.37" width="11.30" height="27.43" fill="#000" stroke="#000" stroke-width="1"/>
<rect x="212.15" y="390.05" width="11.30" height="52.75" fill="#717171" stroke="#000" stroke-width="1"/>
<text x="45.0" y="462.6" font-size="9.5" textLength="21.2" lengthAdjust="spacingAndGlyphs" stroke="#000" stroke-width="0.3">CEM</text>
<text x="93.0" y="462.6" font-size="9.5" textLength="28.2" lengthAdjust="spacingAndGlyphs" stroke="#000" stroke-width="0.3">Jurkat</text>
<text x="140.5" y="462.6" font-size="9.5" textLength="37.0" lengthAdjust="spacingAndGlyphs" stroke="#000" stroke-width="0.3">HuT-102</text>
<text x="202.0" y="462.6" font-size="9.5" textLength="18.5" lengthAdjust="spacingAndGlyphs" stroke="#000" stroke-width="0.3">MT2</text>
<path d="M30.6 336.8V443.6M30.1 442.8H233.0" stroke="#000" stroke-width="1.7" fill="none"/>
<clipPath id="clipb"><rect x="15.3" y="331.3" width="10.8" height="12"/></clipPath>
<path d="M27.8 442.8H30.6" stroke="#000" stroke-width="1.1"/>
<text x="19.5" y="445.8" font-size="8.2" textLength="4.4" lengthAdjust="spacingAndGlyphs" stroke="#000" stroke-width="0.3">0</text>
<path d="M27.8 421.7H30.6" stroke="#000" stroke-width="1.1"/>
<text x="15.1" y="424.7" font-size="8.2" textLength="8.8" lengthAdjust="spacingAndGlyphs" stroke="#000" stroke-width="0.3">20</text>
<path d="M27.8 400.6H30.6" stroke="#000" stroke-width="1.1"/>
<text x="15.1" y="403.6" font-size="8.2" textLength="8.8" lengthAdjust="spacingAndGlyphs" stroke="#000" stroke-width="0.3">40</text>
<path d="M27.8 379.5H30.6" stroke="#000" stroke-width="1.1"/>
<text x="15.1" y="382.5" font-size="8.2" textLength="8.8" lengthAdjust="spacingAndGlyphs" stroke="#000" stroke-width="0.3">60</text>
<path d="M27.8 358.4H30.6" stroke="#000" stroke-width="1.1"/>
<text x="15.1" y="361.4" font-size="8.2" textLength="8.8" lengthAdjust="spacingAndGlyphs" stroke="#000" stroke-width="0.3">80</text>
<path d="M27.8 337.3H30.6" stroke="#000" stroke-width="1.1"/>
<text x="10.7" y="340.3" font-size="8.2" textLength="13.2" lengthAdjust="spacingAndGlyphs" clip-path="url(#clipb)" stroke="#000" stroke-width="0.3">100</text>
<path d="M30.9 442.8V446.0" stroke="#000" stroke-width="1.1"/>
<path d="M81.2 442.8V446.0" stroke="#000" stroke-width="1.1"/>
<path d="M131.4 442.8V446.0" stroke="#000" stroke-width="1.1"/>
<path d="M181.5 442.8V446.0" stroke="#000" stroke-width="1.1"/>
<path d="M232.3 442.8V446.0" stroke="#000" stroke-width="1.1"/>
<text transform="translate(9.3 447.4) rotate(-90)" font-size="8.6" textLength="115.4" lengthAdjust="spacingAndGlyphs" stroke="#000" stroke-width="0.3">% of PreG1 (Apoptotic Cells)</text>
<text x="105.8" y="335.5" font-size="10" textLength="17.5" lengthAdjust="spacingAndGlyphs" stroke="#000" stroke-width="0.3">48h</text>
<rect x="300.33" y="399.98" width="12.85" height="44.82" fill="#fff" stroke="#000" stroke-width="1"/>
<rect x="313.18" y="398.51" width="12.85" height="46.29" fill="#000" stroke="#000" stroke-width="1"/>
<rect x="326.03" y="344.88" width="12.85" height="99.92" fill="#717171" stroke="#000" stroke-width="1"/>
<rect x="356.53" y="406.41" width="12.85" height="38.39" fill="#fff" stroke="#000" stroke-width="1"/>
<rect x="369.38" y="364.64" width="12.85" height="80.16" fill="#000" stroke="#000" stroke-width="1"/>
<rect x="382.23" y="352.79" width="12.85" height="92.01" fill="#717171" stroke="#000" stroke-width="1"/>
<rect x="412.93" y="400.77" width="12.85" height="44.03" fill="#fff" stroke="#000" stroke-width="1"/>
<rect x="425.78" y="400.77" width="12.85" height="44.03" fill="#000" stroke="#000" stroke-width="1"/>
<rect x="438.62" y="377.40" width="12.85" height="67.40" fill="#717171" stroke="#000" stroke-width="1"/>
<rect x="469.23" y="394.00" width="12.85" height="50.81" fill="#fff" stroke="#000" stroke-width="1"/>
<rect x="482.08" y="388.69" width="12.85" height="56.11" fill="#000" stroke="#000" stroke-width="1"/>
<rect x="494.93" y="348.04" width="12.85" height="96.76" fill="#717171" stroke="#000" stroke-width="1"/>
<text x="306.2" y="462.6" font-size="9.5" textLength="21.2" lengthAdjust="spacingAndGlyphs" stroke="#000" stroke-width="0.3">CEM</text>
<text x="357.0" y="462.6" font-size="9.5" textLength="28.5" lengthAdjust="spacingAndGlyphs" stroke="#000" stroke-width="0.3">Jurkat</text>
<text x="418.0" y="462.6" font-size="9.5" textLength="37.0" lengthAdjust="spacingAndGlyphs" stroke="#000" stroke-width="0.3">HuT-102</text>
<text x="480.0" y="462.6" font-size="9.5" textLength="18.0" lengthAdjust="spacingAndGlyphs" stroke="#000" stroke-width="0.3">MT2</text>
<path d="M290.3 331.4V445.6M289.8 444.8H517.1" stroke="#000" stroke-width="1.7" fill="none"/>
<path d="M287.5 444.8H290.3" stroke="#000" stroke-width="1.1"/>
<text x="282.6" y="447.1" font-size="6.4" textLength="2.8" lengthAdjust="spacingAndGlyphs" stroke="#000" stroke-width="0.3">0</text>
<path d="M287.5 422.2H290.3" stroke="#000" stroke-width="1.1"/>
<text x="279.8" y="424.5" font-size="6.4" textLength="5.6" lengthAdjust="spacingAndGlyphs" stroke="#000" stroke-width="0.3">20</text>
<path d="M287.5 399.6H290.3" stroke="#000" stroke-width="1.1"/>
<text x="279.8" y="401.9" font-size="6.4" textLength="5.6" lengthAdjust="spacingAndGlyphs" stroke="#000" stroke-width="0.3">40</text>
<path d="M287.5 377.1H290.3" stroke="#000" stroke-width="1.1"/>
<text x="279.8" y="379.4" font-size="6.4" textLength="5.6" lengthAdjust="spacingAndGlyphs" stroke="#000" stroke-width="0.3">60</text>
<path d="M287.5 354.5H290.3" stroke="#000" stroke-width="1.1"/>
<text x="279.8" y="356.8" font-size="6.4" textLength="5.6" lengthAdjust="spacingAndGlyphs" stroke="#000" stroke-width="0.3">80</text>
<path d="M287.5 331.9H290.3" stroke="#000" stroke-width="1.1"/>
<text x="277.8" y="334.2" font-size="6.4" textLength="7.6" lengthAdjust="spacingAndGlyphs" stroke="#000" stroke-width="0.3">100</text>
<path d="M291.0 444.8V448.0" stroke="#000" stroke-width="1.1"/>
<path d="M347.5 444.8V448.0" stroke="#000" stroke-width="1.1"/>
<path d="M404.5 444.8V448.0" stroke="#000" stroke-width="1.1"/>
<path d="M461.0 444.8V448.0" stroke="#000" stroke-width="1.1"/>
<path d="M516.4 444.8V448.0" stroke="#000" stroke-width="1.1"/>
<text transform="translate(270.7 447.4) rotate(-90)" font-size="8.6" textLength="105.6" lengthAdjust="spacingAndGlyphs" stroke="#000" stroke-width="0.3">% G2+S+M (Cycling Cells)</text>
<text x="380.5" y="334.3" font-size="10" textLength="17.5" lengthAdjust="spacingAndGlyphs" stroke="#000" stroke-width="0.3">24h</text>
<text x="34.3" y="265.3" font-size="16.9" textLength="10.8" lengthAdjust="spacingAndGlyphs" stroke="#000" stroke-width="0.6">B</text>
<text x="298.3" y="265.1" font-size="16.9" textLength="11.2" lengthAdjust="spacingAndGlyphs" stroke="#000" stroke-width="0.6">C</text>
<rect x="135.90" y="271.20" width="3.80" height="7.80" fill="#fff" stroke="#000" stroke-width="1.1"/>
<rect x="135.90" y="293.40" width="3.80" height="7.80" fill="#000" stroke="#000" stroke-width="1.1"/>
<rect x="135.90" y="316.00" width="3.80" height="7.80" fill="#717171" stroke="#000" stroke-width="1.1"/>
<text x="144.2" y="278.0" font-size="10.5" textLength="37.0" lengthAdjust="spacingAndGlyphs" stroke="#000" stroke-width="0.12">Control</text>
<text x="144.2" y="297.0" font-size="10.5" textLength="76.2" lengthAdjust="spacingAndGlyphs" stroke="#000" stroke-width="0.12">EAPB0203 1µM</text>
<text x="144.2" y="316.3" font-size="10.5" textLength="76.2" lengthAdjust="spacingAndGlyphs" stroke="#000" stroke-width="0.12">EAPB0203 5µM</text>
<rect x="404.70" y="270.40" width="3.80" height="6.60" fill="#fff" stroke="#000" stroke-width="1.1"/>
<rect x="404.70" y="289.20" width="3.80" height="6.60" fill="#000" stroke="#000" stroke-width="1.1"/>
<rect x="404.70" y="308.00" width="3.80" height="6.60" fill="#717171" stroke="#000" stroke-width="1.1"/>
<text x="412.5" y="278.0" font-size="10.5" textLength="37.0" lengthAdjust="spacingAndGlyphs" stroke="#000" stroke-width="0.12">Control</text>
<text x="412.5" y="297.0" font-size="10.5" textLength="76.2" lengthAdjust="spacingAndGlyphs" stroke="#000" stroke-width="0.12">EAPB0203 1µM</text>
<text x="412.5" y="316.4" font-size="10.5" textLength="76.2" lengthAdjust="spacingAndGlyphs" stroke="#000" stroke-width="0.12">EAPB0203 5µM</text>
</g>
</svg>
</body>
</html>
